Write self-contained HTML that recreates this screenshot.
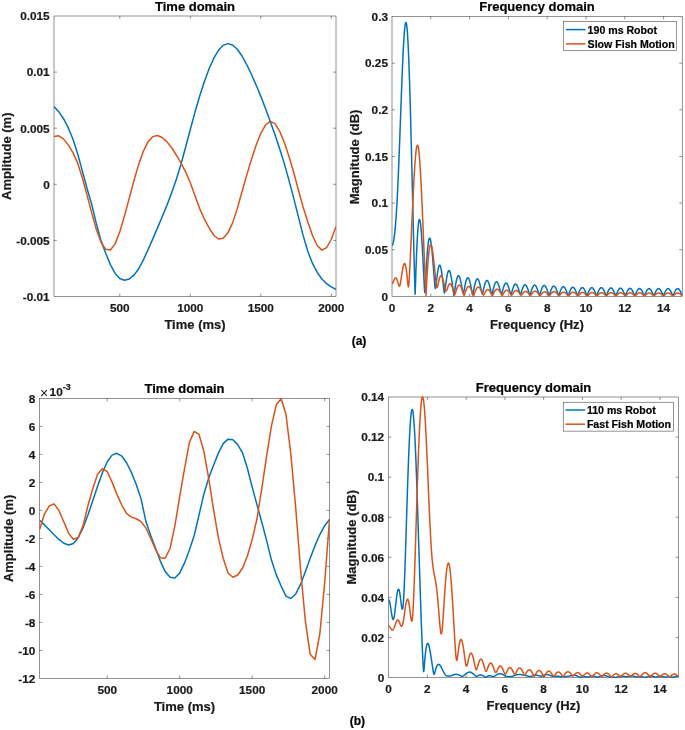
<!DOCTYPE html>
<html><head><meta charset="utf-8"><style>
html,body{margin:0;padding:0;background:#fff;}
svg{display:block;will-change:transform;font-family:"Liberation Sans",sans-serif;}
</style></head><body>
<svg width="685" height="730" viewBox="0 0 685 730">
<rect width="685" height="730" fill="#fff"/>
<clipPath id="cTL"><rect x="54.0" y="15.0" width="282.00" height="282.50"/></clipPath>
<clipPath id="cTR"><rect x="392.0" y="15.5" width="290.20" height="281.90"/></clipPath>
<clipPath id="cBL"><rect x="39.6" y="397.4" width="289.90" height="282.00"/></clipPath>
<clipPath id="cBR"><rect x="388.5" y="396.0" width="290.00" height="282.50"/></clipPath>
<rect x="54.0" y="16.0" width="282.00" height="280.50" fill="none" stroke="#262626" stroke-width="0.5"/>
<path d="M119.80,296.5V293.60M119.80,16.0V18.90M190.30,296.5V293.60M190.30,16.0V18.90M260.80,296.5V293.60M260.80,16.0V18.90M331.30,296.5V293.60M331.30,16.0V18.90M54.0,240.40H56.90M336.0,240.40H333.10M54.0,184.30H56.90M336.0,184.30H333.10M54.0,128.20H56.90M336.0,128.20H333.10M54.0,72.10H56.90M336.0,72.10H333.10" stroke="#262626" stroke-width="0.5" fill="none"/>
<polyline clip-path="url(#cTL)" points="54.00,106.54 58.70,111.69 63.40,118.45 68.10,127.43 72.80,138.81 77.50,153.20 82.20,170.42 86.90,187.95 91.60,203.95 96.30,223.41 101.00,240.71 105.70,253.25 110.40,264.59 115.10,273.44 119.80,278.57 124.50,280.28 129.20,279.03 133.90,275.11 138.60,268.94 143.30,260.17 148.00,249.70 152.70,239.10 157.40,228.14 162.10,217.06 166.80,205.61 171.50,193.29 176.20,179.82 180.90,164.49 185.60,147.26 190.30,129.47 195.00,112.17 199.70,95.99 204.40,81.44 209.10,68.73 213.80,58.21 218.50,50.35 223.20,45.34 227.90,43.61 232.60,45.06 237.30,49.21 242.00,56.00 246.70,64.54 251.40,74.27 256.10,84.97 260.80,96.34 265.50,108.55 270.20,121.31 274.90,134.51 279.60,148.46 284.30,163.62 289.00,180.35 293.70,198.16 298.40,216.91 303.10,235.38 307.80,251.25 312.50,263.45 317.20,272.42 321.90,278.94 326.60,283.66 331.30,286.90 336.00,289.43" fill="none" stroke="#0072BD" stroke-width="1.5" stroke-linejoin="round"/>
<polyline clip-path="url(#cTL)" points="54.00,136.41 58.70,135.86 63.40,138.88 68.10,144.63 72.80,152.34 77.50,162.68 82.20,177.33 86.90,194.59 91.60,212.57 96.30,229.21 101.00,242.10 105.70,249.33 110.40,249.93 115.10,243.87 119.80,231.81 124.50,215.84 129.20,198.32 133.90,180.76 138.60,164.66 143.30,151.37 148.00,141.81 152.70,136.63 157.40,135.48 162.10,137.46 166.80,141.60 171.50,147.53 176.20,154.84 180.90,162.97 185.60,171.84 190.30,182.75 195.00,195.72 199.70,208.59 204.40,219.20 209.10,227.83 213.80,235.26 218.50,239.00 223.20,238.21 227.90,232.82 232.60,222.89 237.30,208.49 242.00,191.69 246.70,175.09 251.40,159.48 256.10,145.35 260.80,133.41 265.50,125.01 270.20,121.41 274.90,123.70 279.60,131.07 284.30,142.41 289.00,156.55 293.70,172.27 298.40,189.95 303.10,206.94 307.80,222.00 312.50,235.54 317.20,245.51 321.90,250.11 326.60,247.63 331.30,239.25 336.00,226.71" fill="none" stroke="#D95319" stroke-width="1.5" stroke-linejoin="round"/>
<text x="119.80" y="311.90" font-size="11.8" text-anchor="middle" font-weight="bold" fill="#1a1a1a" stroke="#1a1a1a" stroke-width="0.2" >500</text>
<text x="190.30" y="311.90" font-size="11.8" text-anchor="middle" font-weight="bold" fill="#1a1a1a" stroke="#1a1a1a" stroke-width="0.2" >1000</text>
<text x="260.80" y="311.90" font-size="11.8" text-anchor="middle" font-weight="bold" fill="#1a1a1a" stroke="#1a1a1a" stroke-width="0.2" >1500</text>
<text x="331.30" y="311.90" font-size="11.8" text-anchor="middle" font-weight="bold" fill="#1a1a1a" stroke="#1a1a1a" stroke-width="0.2" >2000</text>
<text x="49.70" y="300.80" font-size="11.8" text-anchor="end" font-weight="bold" fill="#1a1a1a" stroke="#1a1a1a" stroke-width="0.2" >-0.01</text>
<text x="49.70" y="244.70" font-size="11.8" text-anchor="end" font-weight="bold" fill="#1a1a1a" stroke="#1a1a1a" stroke-width="0.2" >-0.005</text>
<text x="49.70" y="188.60" font-size="11.8" text-anchor="end" font-weight="bold" fill="#1a1a1a" stroke="#1a1a1a" stroke-width="0.2" >0</text>
<text x="49.70" y="132.50" font-size="11.8" text-anchor="end" font-weight="bold" fill="#1a1a1a" stroke="#1a1a1a" stroke-width="0.2" >0.005</text>
<text x="49.70" y="76.40" font-size="11.8" text-anchor="end" font-weight="bold" fill="#1a1a1a" stroke="#1a1a1a" stroke-width="0.2" >0.01</text>
<text x="49.70" y="20.30" font-size="11.8" text-anchor="end" font-weight="bold" fill="#1a1a1a" stroke="#1a1a1a" stroke-width="0.2" >0.015</text>
<text x="195.00" y="328.60" font-size="13.0" text-anchor="middle" font-weight="bold" fill="#1a1a1a" stroke="#1a1a1a" stroke-width="0.2" >Time (ms)</text>
<text x="195.00" y="11.00" font-size="13.0" text-anchor="middle" font-weight="bold" fill="#000" stroke="#000" stroke-width="0.2" >Time domain</text>
<text x="11.30" y="156.20" font-size="13.0" text-anchor="middle" font-weight="bold" fill="#1a1a1a" stroke="#1a1a1a" stroke-width="0.2" transform="rotate(-90 11.3 156.2)">Amplitude (m)</text>
<rect x="392.0" y="16.5" width="290.20" height="279.90" fill="none" stroke="#262626" stroke-width="0.5"/>
<path d="M430.80,296.4V293.50M430.80,16.5V19.40M469.60,296.4V293.50M469.60,16.5V19.40M508.40,296.4V293.50M508.40,16.5V19.40M547.20,296.4V293.50M547.20,16.5V19.40M586.00,296.4V293.50M586.00,16.5V19.40M624.80,296.4V293.50M624.80,16.5V19.40M663.60,296.4V293.50M663.60,16.5V19.40M392.0,249.75H394.90M682.2,249.75H679.30M392.0,203.10H394.90M682.2,203.10H679.30M392.0,156.45H394.90M682.2,156.45H679.30M392.0,109.80H394.90M682.2,109.80H679.30M392.0,63.15H394.90M682.2,63.15H679.30" stroke="#262626" stroke-width="0.5" fill="none"/>
<polyline clip-path="url(#cTR)" points="391.90,245.43 392.14,245.34 392.38,245.08 392.63,244.63 392.87,244.00 393.11,243.19 393.35,242.20 393.59,241.03 393.84,239.67 394.08,238.12 394.32,236.37 394.56,234.43 394.80,232.28 395.05,229.92 395.29,227.34 395.53,224.54 395.77,221.51 396.02,218.25 396.26,214.74 396.50,210.99 396.74,206.99 396.98,202.75 397.23,198.27 397.47,193.55 397.71,188.59 397.95,183.41 398.19,178.01 398.44,172.40 398.68,166.61 398.92,160.64 399.16,154.52 399.40,148.25 399.65,141.88 399.89,135.40 400.13,128.86 400.37,122.28 400.61,115.68 400.86,109.09 401.10,102.54 401.34,96.05 401.58,89.66 401.83,83.39 402.07,77.28 402.31,71.35 402.55,65.64 402.79,60.16 403.04,54.96 403.28,50.05 403.52,45.47 403.76,41.24 404.00,37.38 404.25,33.92 404.49,30.88 404.73,28.28 404.97,26.13 405.21,24.47 405.46,23.29 405.70,22.61 405.94,22.45 406.18,22.82 406.42,23.71 406.67,25.14 406.91,27.10 407.15,29.60 407.39,32.63 407.64,36.20 407.88,40.28 408.12,44.88 408.36,49.99 408.60,55.58 408.85,61.64 409.09,68.16 409.33,75.11 409.57,82.48 409.81,90.23 410.06,98.35 410.30,106.81 410.54,115.57 410.78,124.61 411.02,133.91 411.27,143.41 411.51,153.10 411.75,162.94 411.99,172.90 412.23,182.93 412.48,193.01 412.72,203.10 412.96,213.17 413.20,223.17 413.45,233.08 413.69,242.86 413.93,252.47 414.17,261.89 414.41,271.07 414.66,279.97 414.90,288.49 415.14,294.25 415.38,287.45 415.62,279.91 415.87,272.69 416.11,265.86 416.35,259.44 416.59,253.46 416.83,247.94 417.08,242.89 417.32,238.32 417.56,234.24 417.80,230.65 418.04,227.56 418.29,224.98 418.53,222.89 418.77,221.30 419.01,220.20 419.26,219.59 419.50,219.45 419.74,219.78 419.98,220.56 420.22,221.77 420.47,223.40 420.71,225.43 420.95,227.84 421.19,230.61 421.43,233.71 421.68,237.12 421.92,240.82 422.16,244.77 422.40,248.96 422.64,253.34 422.89,257.90 423.13,262.60 423.37,267.41 423.61,272.29 423.85,277.22 424.10,282.12 424.34,286.89 424.58,291.16 424.82,292.58 425.07,289.34 425.31,284.98 425.55,280.50 425.79,276.10 426.03,271.83 426.28,267.73 426.52,263.84 426.76,260.17 427.00,256.74 427.24,253.57 427.49,250.67 427.73,248.06 427.97,245.73 428.21,243.71 428.45,242.00 428.70,240.59 428.94,239.50 429.18,238.72 429.42,238.25 429.66,238.09 429.91,238.24 430.15,238.69 430.39,239.42 430.63,240.43 430.88,241.71 431.12,243.25 431.36,245.03 431.60,247.04 431.84,249.26 432.09,251.66 432.33,254.25 432.57,256.98 432.81,259.85 433.05,262.83 433.30,265.89 433.54,269.01 433.78,272.16 434.02,275.31 434.26,278.39 434.51,281.36 434.75,284.10 434.99,286.44 435.23,288.06 435.47,288.57 435.72,287.87 435.96,286.30 436.20,284.28 436.44,282.08 436.69,279.86 436.93,277.70 437.17,275.65 437.41,273.74 437.65,271.99 437.90,270.42 438.14,269.04 438.38,267.86 438.62,266.89 438.86,266.13 439.11,265.59 439.35,265.26 439.59,265.14 439.83,265.24 440.07,265.54 440.32,266.05 440.56,266.75 440.80,267.63 441.04,268.70 441.28,269.94 441.53,271.33 441.77,272.87 442.01,274.55 442.25,276.34 442.50,278.24 442.74,280.22 442.98,282.27 443.22,284.37 443.46,286.49 443.71,288.58 443.95,290.57 444.19,292.23 444.43,293.06 444.67,292.49 444.92,290.98 445.16,289.15 445.40,287.22 445.64,285.31 445.88,283.44 446.13,281.66 446.37,279.97 446.61,278.40 446.85,276.94 447.09,275.62 447.34,274.45 447.58,273.42 447.82,272.54 448.06,271.83 448.31,271.27 448.55,270.88 448.79,270.66 449.03,270.60 449.27,270.70 449.52,270.97 449.76,271.39 450.00,271.97 450.24,272.69 450.48,273.56 450.73,274.56 450.97,275.69 451.21,276.94 451.45,278.30 451.69,279.76 451.94,281.31 452.18,282.94 452.42,284.64 452.66,286.39 452.90,288.18 453.15,290.01 453.39,291.84 453.63,293.65 453.87,295.29 454.12,295.06 454.36,293.40 454.60,291.66 454.84,289.95 455.08,288.29 455.33,286.70 455.57,285.18 455.81,283.75 456.05,282.42 456.29,281.20 456.54,280.08 456.78,279.08 457.02,278.21 457.26,277.46 457.50,276.84 457.75,276.36 457.99,276.02 458.23,275.81 458.47,275.74 458.71,275.80 458.96,276.00 459.20,276.33 459.44,276.79 459.68,277.38 459.93,278.08 460.17,278.90 460.41,279.82 460.65,280.84 460.89,281.95 461.14,283.15 461.38,284.41 461.62,285.73 461.86,287.10 462.10,288.49 462.35,289.89 462.59,291.24 462.83,292.46 463.07,293.35 463.31,293.57 463.56,292.99 463.80,291.94 464.04,290.69 464.28,289.37 464.52,288.06 464.77,286.77 465.01,285.53 465.25,284.35 465.49,283.25 465.74,282.24 465.98,281.31 466.22,280.48 466.46,279.76 466.70,279.14 466.95,278.64 467.19,278.25 467.43,277.98 467.67,277.83 467.91,277.80 468.16,277.89 468.40,278.09 468.64,278.42 468.88,278.85 469.12,279.40 469.37,280.05 469.61,280.80 469.85,281.65 470.09,282.59 470.33,283.61 470.58,284.71 470.82,285.87 471.06,287.09 471.30,288.36 471.55,289.67 471.79,291.00 472.03,292.31 472.27,293.56 472.51,294.55 472.76,294.69 473.00,293.85 473.24,292.65 473.48,291.37 473.72,290.08 473.97,288.82 474.21,287.59 474.45,286.41 474.69,285.30 474.93,284.25 475.18,283.29 475.42,282.40 475.66,281.61 475.90,280.91 476.14,280.31 476.39,279.81 476.63,279.41 476.87,279.12 477.11,278.94 477.36,278.87 477.60,278.90 477.84,279.05 478.08,279.30 478.32,279.65 478.57,280.10 478.81,280.65 479.05,281.30 479.29,282.03 479.53,282.85 479.78,283.74 480.02,284.70 480.26,285.73 480.50,286.80 480.74,287.92 480.99,289.06 481.23,290.21 481.47,291.35 481.71,292.41 481.95,293.30 482.20,293.80 482.44,293.69 482.68,293.04 482.92,292.10 483.17,291.04 483.41,289.95 483.65,288.86 483.89,287.79 484.13,286.77 484.38,285.80 484.62,284.90 484.86,284.06 485.10,283.30 485.34,282.62 485.59,282.03 485.83,281.53 486.07,281.12 486.31,280.81 486.55,280.59 486.80,280.47 487.04,280.45 487.28,280.53 487.52,280.71 487.76,280.98 488.01,281.35 488.25,281.81 488.49,282.35 488.73,282.98 488.98,283.68 489.22,284.46 489.46,285.31 489.70,286.21 489.94,287.17 490.19,288.17 490.43,289.21 490.67,290.26 490.91,291.31 491.15,292.33 491.40,293.24 491.64,293.92 491.88,294.11 492.12,293.71 492.36,292.94 492.61,292.01 492.85,291.01 493.09,290.00 493.33,289.01 493.57,288.05 493.82,287.14 494.06,286.28 494.30,285.48 494.54,284.74 494.79,284.08 495.03,283.50 495.27,283.00 495.51,282.58 495.75,282.24 496.00,282.00 496.24,281.84 496.48,281.78 496.72,281.80 496.96,281.92 497.21,282.12 497.45,282.41 497.69,282.79 497.93,283.24 498.17,283.78 498.42,284.38 498.66,285.06 498.90,285.80 499.14,286.60 499.38,287.45 499.63,288.34 499.87,289.27 500.11,290.22 500.35,291.18 500.60,292.11 500.84,292.99 501.08,293.72 501.32,294.13 501.56,294.04 501.81,293.52 502.05,292.75 502.29,291.88 502.53,290.98 502.77,290.07 503.02,289.18 503.26,288.33 503.50,287.53 503.74,286.77 503.98,286.07 504.23,285.44 504.47,284.88 504.71,284.38 504.95,283.97 505.19,283.63 505.44,283.37 505.68,283.19 505.92,283.10 506.16,283.09 506.41,283.16 506.65,283.32 506.89,283.55 507.13,283.86 507.37,284.25 507.62,284.72 507.86,285.25 508.10,285.85 508.34,286.51 508.58,287.22 508.83,287.99 509.07,288.80 509.31,289.64 509.55,290.51 509.79,291.39 510.04,292.26 510.28,293.10 510.52,293.82 510.76,294.30 511.00,294.35 511.25,293.95 511.49,293.27 511.73,292.47 511.97,291.63 512.22,290.79 512.46,289.96 512.70,289.16 512.94,288.39 513.18,287.68 513.43,287.01 513.67,286.41 513.91,285.86 514.15,285.38 514.39,284.97 514.64,284.63 514.88,284.37 515.12,284.18 515.36,284.07 515.60,284.04 515.85,284.08 516.09,284.20 516.33,284.39 516.57,284.66 516.81,285.00 517.06,285.41 517.30,285.88 517.54,286.42 517.78,287.01 518.03,287.66 518.27,288.36 518.51,289.09 518.75,289.86 518.99,290.66 519.24,291.47 519.48,292.27 519.72,293.04 519.96,293.72 520.20,294.21 520.45,294.36 520.69,294.09 520.93,293.53 521.17,292.83 521.41,292.07 521.66,291.29 521.90,290.51 522.14,289.77 522.38,289.05 522.62,288.37 522.87,287.74 523.11,287.17 523.35,286.64 523.59,286.19 523.84,285.79 524.08,285.46 524.32,285.20 524.56,285.01 524.80,284.90 525.05,284.85 525.29,284.88 525.53,284.98 525.77,285.16 526.01,285.40 526.26,285.71 526.50,286.09 526.74,286.53 526.98,287.03 527.22,287.59 527.47,288.21 527.71,288.87 527.95,289.57 528.19,290.31 528.43,291.08 528.68,291.86 528.92,292.66 529.16,293.44 529.40,294.15 529.65,294.70 529.89,294.86 530.13,294.54 530.37,293.92 530.61,293.18 530.86,292.40 531.10,291.62 531.34,290.85 531.58,290.10 531.82,289.39 532.07,288.71 532.31,288.09 532.55,287.51 532.79,286.98 533.03,286.52 533.28,286.11 533.52,285.77 533.76,285.50 534.00,285.29 534.25,285.15 534.49,285.08 534.73,285.09 534.97,285.16 535.21,285.30 535.46,285.51 535.70,285.79 535.94,286.13 536.18,286.54 536.42,287.00 536.67,287.52 536.91,288.10 537.15,288.73 537.39,289.40 537.63,290.11 537.88,290.85 538.12,291.62 538.36,292.42 538.60,293.22 538.84,294.01 539.09,294.75 539.33,295.29 539.57,295.27 539.81,294.71 540.06,293.98 540.30,293.19 540.54,292.40 540.78,291.63 541.02,290.88 541.27,290.16 541.51,289.48 541.75,288.84 541.99,288.24 542.23,287.70 542.48,287.22 542.72,286.79 542.96,286.42 543.20,286.11 543.44,285.87 543.69,285.69 543.93,285.58 544.17,285.54 544.41,285.57 544.65,285.66 544.90,285.82 545.14,286.04 545.38,286.33 545.62,286.68 545.87,287.08 546.11,287.55 546.35,288.07 546.59,288.63 546.83,289.24 547.08,289.90 547.32,290.58 547.56,291.30 547.80,292.05 548.04,292.80 548.29,293.56 548.53,294.30 548.77,294.94 549.01,295.30 549.25,295.11 549.50,294.53 549.74,293.83 549.98,293.09 550.22,292.35 550.46,291.62 550.71,290.92 550.95,290.25 551.19,289.62 551.43,289.03 551.67,288.48 551.92,287.99 552.16,287.55 552.40,287.16 552.64,286.83 552.89,286.56 553.13,286.36 553.37,286.21 553.61,286.13 553.85,286.12 554.10,286.16 554.34,286.27 554.58,286.45 554.82,286.68 555.06,286.98 555.31,287.33 555.55,287.73 555.79,288.19 556.03,288.69 556.27,289.24 556.52,289.83 556.76,290.46 557.00,291.12 557.24,291.80 557.49,292.49 557.73,293.19 557.97,293.87 558.21,294.50 558.45,294.97 558.70,295.10 558.94,294.79 559.18,294.24 559.42,293.59 559.66,292.92 559.91,292.24 560.15,291.58 560.39,290.94 560.63,290.34 560.87,289.76 561.12,289.23 561.36,288.75 561.60,288.31 561.84,287.92 562.08,287.58 562.33,287.31 562.57,287.09 562.81,286.92 563.05,286.82 563.29,286.78 563.54,286.79 563.78,286.87 564.02,287.01 564.26,287.20 564.51,287.45 564.75,287.76 564.99,288.12 565.23,288.52 565.47,288.98 565.72,289.47 565.96,290.01 566.20,290.58 566.44,291.18 566.68,291.80 566.93,292.43 567.17,293.06 567.41,293.68 567.65,294.24 567.89,294.67 568.14,294.86 568.38,294.70 568.62,294.29 568.86,293.75 569.11,293.15 569.35,292.54 569.59,291.92 569.83,291.33 570.07,290.75 570.32,290.21 570.56,289.70 570.80,289.24 571.04,288.82 571.28,288.44 571.53,288.11 571.77,287.84 572.01,287.62 572.25,287.45 572.49,287.34 572.74,287.29 572.98,287.30 573.22,287.36 573.46,287.48 573.70,287.65 573.95,287.88 574.19,288.16 574.43,288.49 574.67,288.87 574.91,289.29 575.16,289.75 575.40,290.25 575.64,290.79 575.88,291.35 576.13,291.93 576.37,292.52 576.61,293.12 576.85,293.69 577.09,294.21 577.34,294.62 577.58,294.80 577.82,294.68 578.06,294.32 578.30,293.82 578.55,293.26 578.79,292.68 579.03,292.10 579.27,291.53 579.51,290.98 579.76,290.46 580.00,289.97 580.24,289.52 580.48,289.11 580.72,288.75 580.97,288.43 581.21,288.16 581.45,287.94 581.69,287.78 581.94,287.67 582.18,287.61 582.42,287.61 582.66,287.67 582.90,287.78 583.15,287.94 583.39,288.16 583.63,288.43 583.87,288.74 584.11,289.11 584.36,289.52 584.60,289.96 584.84,290.45 585.08,290.97 585.32,291.52 585.57,292.09 585.81,292.67 586.05,293.26 586.29,293.83 586.53,294.36 586.78,294.78 587.02,294.97 587.26,294.85 587.50,294.47 587.75,293.96 587.99,293.39 588.23,292.81 588.47,292.23 588.71,291.65 588.96,291.11 589.20,290.58 589.44,290.10 589.68,289.64 589.92,289.23 590.17,288.86 590.41,288.54 590.65,288.26 590.89,288.04 591.13,287.87 591.38,287.75 591.62,287.68 591.86,287.67 592.10,287.72 592.35,287.82 592.59,287.97 592.83,288.17 593.07,288.43 593.31,288.73 593.56,289.08 593.80,289.48 594.04,289.92 594.28,290.40 594.52,290.91 594.77,291.46 595.01,292.03 595.25,292.62 595.49,293.22 595.73,293.83 595.98,294.42 596.22,294.93 596.46,295.27 596.70,295.23 596.94,294.85 597.19,294.32 597.43,293.73 597.67,293.12 597.91,292.52 598.15,291.93 598.40,291.36 598.64,290.82 598.88,290.31 599.12,289.84 599.37,289.41 599.61,289.02 599.85,288.67 600.09,288.38 600.33,288.13 600.58,287.93 600.82,287.78 601.06,287.69 601.30,287.65 601.54,287.67 601.79,287.74 602.03,287.86 602.27,288.04 602.51,288.26 602.75,288.54 603.00,288.86 603.24,289.23 603.48,289.65 603.72,290.10 603.97,290.59 604.21,291.11 604.45,291.66 604.69,292.24 604.93,292.83 605.18,293.44 605.42,294.04 605.66,294.62 605.90,295.11 606.14,295.38 606.39,295.23 606.63,294.79 606.87,294.24 607.11,293.65 607.35,293.05 607.60,292.46 607.84,291.89 608.08,291.35 608.32,290.83 608.56,290.34 608.81,289.90 609.05,289.49 609.29,289.13 609.53,288.81 609.77,288.54 610.02,288.31 610.26,288.14 610.50,288.02 610.74,287.96 610.99,287.94 611.23,287.98 611.47,288.07 611.71,288.21 611.95,288.41 612.20,288.65 612.44,288.94 612.68,289.28 612.92,289.66 613.16,290.08 613.41,290.53 613.65,291.03 613.89,291.55 614.13,292.10 614.37,292.66 614.62,293.24 614.86,293.83 615.10,294.40 615.34,294.92 615.59,295.28 615.83,295.32 616.07,295.00 616.31,294.51 616.55,293.95 616.80,293.37 617.04,292.80 617.28,292.24 617.52,291.69 617.76,291.18 618.01,290.69 618.25,290.24 618.49,289.83 618.73,289.45 618.97,289.12 619.22,288.84 619.46,288.60 619.70,288.41 619.94,288.27 620.18,288.18 620.43,288.15 620.67,288.16 620.91,288.23 621.15,288.34 621.39,288.51 621.64,288.72 621.88,288.99 622.12,289.30 622.36,289.65 622.61,290.04 622.85,290.47 623.09,290.93 623.33,291.43 623.57,291.95 623.82,292.49 624.06,293.04 624.30,293.61 624.54,294.16 624.78,294.67 625.03,295.08 625.27,295.25 625.51,295.09 625.75,294.69 625.99,294.18 626.24,293.63 626.48,293.08 626.72,292.53 626.96,292.00 627.20,291.49 627.45,291.00 627.69,290.55 627.93,290.13 628.17,289.75 628.42,289.41 628.66,289.12 628.90,288.87 629.14,288.67 629.38,288.51 629.63,288.41 629.87,288.35 630.11,288.35 630.35,288.39 630.59,288.49 630.84,288.63 631.08,288.82 631.32,289.06 631.56,289.34 631.80,289.67 632.05,290.04 632.29,290.44 632.53,290.88 632.77,291.35 633.01,291.85 633.26,292.37 633.50,292.90 633.74,293.44 633.98,293.98 634.23,294.49 634.47,294.91 634.71,295.16 634.95,295.12 635.19,294.81 635.44,294.36 635.68,293.84 635.92,293.31 636.16,292.78 636.40,292.25 636.65,291.75 636.89,291.27 637.13,290.82 637.37,290.40 637.61,290.02 637.86,289.68 638.10,289.38 638.34,289.12 638.58,288.91 638.83,288.74 639.07,288.62 639.31,288.56 639.55,288.54 639.79,288.57 640.04,288.65 640.28,288.77 640.52,288.95 640.76,289.17 641.00,289.44 641.25,289.75 641.49,290.09 641.73,290.48 641.97,290.90 642.21,291.36 642.46,291.84 642.70,292.34 642.94,292.87 643.18,293.40 643.42,293.92 643.67,294.43 643.91,294.87 644.15,295.15 644.39,295.17 644.63,294.90 644.88,294.47 645.12,293.97 645.36,293.44 645.60,292.91 645.85,292.39 646.09,291.89 646.33,291.41 646.57,290.96 646.81,290.53 647.06,290.15 647.30,289.80 647.54,289.49 647.78,289.23 648.02,289.00 648.27,288.83 648.51,288.70 648.75,288.62 648.99,288.59 649.23,288.61 649.48,288.67 649.72,288.79 649.96,288.95 650.20,289.16 650.44,289.41 650.69,289.71 650.93,290.04 651.17,290.42 651.41,290.83 651.66,291.27 651.90,291.75 652.14,292.25 652.38,292.76 652.62,293.29 652.87,293.82 653.11,294.34 653.35,294.81 653.59,295.16 653.83,295.26 654.08,295.05 654.32,294.64 654.56,294.14 654.80,293.62 655.04,293.08 655.29,292.56 655.53,292.05 655.77,291.56 656.01,291.10 656.25,290.66 656.50,290.27 656.74,289.91 656.98,289.58 657.22,289.30 657.47,289.07 657.71,288.88 657.95,288.73 658.19,288.64 658.43,288.59 658.68,288.59 658.92,288.64 659.16,288.74 659.40,288.88 659.64,289.07 659.89,289.31 660.13,289.59 660.37,289.91 660.61,290.28 660.85,290.68 661.10,291.11 661.34,291.57 661.58,292.06 661.82,292.57 662.07,293.10 662.31,293.64 662.55,294.17 662.79,294.67 663.03,295.09 663.28,295.31 663.52,295.21 663.76,294.85 664.00,294.37 664.24,293.85 664.49,293.32 664.73,292.78 664.97,292.27 665.21,291.77 665.45,291.29 665.70,290.85 665.94,290.44 666.18,290.06 666.42,289.72 666.66,289.43 666.91,289.17 667.15,288.97 667.39,288.80 667.63,288.69 667.88,288.62 668.12,288.60 668.36,288.63 668.60,288.71 668.84,288.84 669.09,289.01 669.33,289.23 669.57,289.49 669.81,289.80 670.05,290.15 670.30,290.53 670.54,290.95 670.78,291.40 671.02,291.88 671.26,292.39 671.51,292.91 671.75,293.44 671.99,293.98 672.23,294.50 672.47,294.96 672.72,295.28 672.96,295.30 673.20,295.02 673.44,294.57 673.68,294.06 673.93,293.53 674.17,292.99 674.41,292.47 674.65,291.96 674.90,291.48 675.14,291.02 675.38,290.59 675.62,290.20 675.86,289.85 676.11,289.54 676.35,289.27 676.59,289.04 676.83,288.86 677.07,288.72 677.32,288.64 677.56,288.60 677.80,288.61 678.04,288.67 678.28,288.77 678.53,288.93 678.77,289.13 679.01,289.38 679.25,289.66 679.50,289.99 679.74,290.36 679.98,290.77 680.22,291.21 680.46,291.68 680.71,292.17 680.95,292.69 681.19,293.22 681.43,293.76 681.67,294.29 681.92,294.79 682.16,295.18 682.40,295.35" fill="none" stroke="#0072BD" stroke-width="1.5" stroke-linejoin="round"/>
<polyline clip-path="url(#cTR)" points="391.90,283.74 392.14,283.67 392.38,283.47 392.63,283.15 392.87,282.72 393.11,282.22 393.35,281.67 393.59,281.09 393.84,280.52 394.08,279.96 394.32,279.44 394.56,278.98 394.80,278.59 395.05,278.28 395.29,278.06 395.53,277.95 395.77,277.94 396.02,278.04 396.26,278.26 396.50,278.59 396.74,279.03 396.98,279.58 397.23,280.22 397.47,280.96 397.71,281.76 397.95,282.60 398.19,283.47 398.44,284.31 398.68,285.08 398.92,285.71 399.16,286.12 399.40,286.25 399.65,286.04 399.89,285.49 400.13,284.63 400.37,283.51 400.61,282.18 400.86,280.72 401.10,279.16 401.34,277.55 401.58,275.92 401.83,274.31 402.07,272.74 402.31,271.23 402.55,269.81 402.79,268.49 403.04,267.30 403.28,266.24 403.52,265.34 403.76,264.60 404.00,264.05 404.25,263.69 404.49,263.54 404.73,263.60 404.97,263.89 405.21,264.41 405.46,265.16 405.70,266.15 405.94,267.38 406.18,268.85 406.42,270.55 406.67,272.48 406.91,274.62 407.15,276.93 407.39,279.37 407.64,281.86 407.88,284.20 408.12,286.08 408.36,286.90 408.60,286.17 408.85,283.94 409.09,280.69 409.33,276.80 409.57,272.49 409.81,267.88 410.06,263.04 410.30,258.02 410.54,252.87 410.78,247.60 411.02,242.25 411.27,236.85 411.51,231.41 411.75,225.96 411.99,220.53 412.23,215.14 412.48,209.80 412.72,204.54 412.96,199.39 413.20,194.36 413.45,189.48 413.69,184.76 413.93,180.23 414.17,175.90 414.41,171.80 414.66,167.94 414.90,164.33 415.14,161.00 415.38,157.96 415.62,155.21 415.87,152.78 416.11,150.67 416.35,148.90 416.59,147.46 416.83,146.38 417.08,145.65 417.32,145.28 417.56,145.26 417.80,145.61 418.04,146.32 418.29,147.39 418.53,148.81 418.77,150.59 419.01,152.70 419.26,155.16 419.50,157.94 419.74,161.04 419.98,164.44 420.22,168.14 420.47,172.11 420.71,176.35 420.95,180.83 421.19,185.55 421.43,190.48 421.68,195.60 421.92,200.89 422.16,206.34 422.40,211.92 422.64,217.62 422.89,223.40 423.13,229.26 423.37,235.16 423.61,241.10 423.85,247.04 424.10,252.96 424.34,258.84 424.58,264.67 424.82,270.43 425.07,276.08 425.31,281.62 425.55,287.02 425.79,292.26 426.03,295.31 426.28,290.50 426.52,285.81 426.76,281.32 427.00,277.05 427.24,273.02 427.49,269.23 427.73,265.70 427.97,262.43 428.21,259.43 428.45,256.70 428.70,254.25 428.94,252.08 429.18,250.20 429.42,248.59 429.66,247.27 429.91,246.22 430.15,245.45 430.39,244.94 430.63,244.70 430.88,244.71 431.12,244.97 431.36,245.47 431.60,246.20 431.84,247.14 432.09,248.29 432.33,249.63 432.57,251.14 432.81,252.82 433.05,254.65 433.30,256.61 433.54,258.69 433.78,260.87 434.02,263.13 434.26,265.45 434.51,267.82 434.75,270.21 434.99,272.61 435.23,274.98 435.47,277.30 435.72,279.53 435.96,281.62 436.20,283.53 436.44,285.16 436.69,286.41 436.93,287.17 437.17,287.39 437.41,287.08 437.65,286.37 437.90,285.38 438.14,284.26 438.38,283.08 438.62,281.91 438.86,280.79 439.11,279.75 439.35,278.81 439.59,277.98 439.83,277.28 440.07,276.70 440.32,276.25 440.56,275.94 440.80,275.76 441.04,275.72 441.28,275.80 441.53,276.01 441.77,276.34 442.01,276.78 442.25,277.34 442.50,277.99 442.74,278.74 442.98,279.58 443.22,280.48 443.46,281.46 443.71,282.48 443.95,283.54 444.19,284.63 444.43,285.72 444.67,286.80 444.92,287.84 445.16,288.81 445.40,289.65 445.64,290.33 445.88,290.77 446.13,290.94 446.37,290.83 446.61,290.47 446.85,289.93 447.09,289.29 447.34,288.59 447.58,287.88 447.82,287.18 448.06,286.52 448.31,285.91 448.55,285.37 448.79,284.89 449.03,284.49 449.27,284.17 449.52,283.93 449.76,283.78 450.00,283.72 450.24,283.75 450.48,283.86 450.73,284.06 450.97,284.34 451.21,284.70 451.45,285.14 451.69,285.65 451.94,286.24 452.18,286.88 452.42,287.58 452.66,288.34 452.90,289.13 453.15,289.97 453.39,290.83 453.63,291.71 453.87,292.58 454.12,293.42 454.36,294.16 454.60,294.65 454.84,294.66 455.08,294.19 455.33,293.48 455.57,292.68 455.81,291.86 456.05,291.05 456.29,290.26 456.54,289.50 456.78,288.79 457.02,288.13 457.26,287.53 457.50,286.98 457.75,286.50 457.99,286.08 458.23,285.74 458.47,285.46 458.71,285.26 458.96,285.13 459.20,285.08 459.44,285.09 459.68,285.19 459.93,285.35 460.17,285.58 460.41,285.89 460.65,286.25 460.89,286.69 461.14,287.18 461.38,287.72 461.62,288.32 461.86,288.97 462.10,289.65 462.35,290.38 462.59,291.13 462.83,291.91 463.07,292.71 463.31,293.51 463.56,294.30 463.80,295.01 464.04,295.46 464.28,295.26 464.52,294.63 464.77,293.89 465.01,293.12 465.25,292.37 465.49,291.64 465.74,290.94 465.98,290.27 466.22,289.65 466.46,289.07 466.70,288.54 466.95,288.06 467.19,287.64 467.43,287.28 467.67,286.98 467.91,286.74 468.16,286.57 468.40,286.46 468.64,286.41 468.88,286.43 469.12,286.51 469.37,286.65 469.61,286.86 469.85,287.13 470.09,287.45 470.33,287.83 470.58,288.26 470.82,288.75 471.06,289.28 471.30,289.85 471.55,290.46 471.79,291.11 472.03,291.78 472.27,292.49 472.51,293.21 472.76,293.95 473.00,294.70 473.24,295.46 473.48,296.19 473.72,295.79 473.97,295.04 474.21,294.30 474.45,293.57 474.69,292.87 474.93,292.19 475.18,291.53 475.42,290.91 475.66,290.33 475.90,289.78 476.14,289.28 476.39,288.83 476.63,288.42 476.87,288.06 477.11,287.76 477.36,287.50 477.60,287.31 477.84,287.16 478.08,287.08 478.32,287.05 478.57,287.07 478.81,287.16 479.05,287.29 479.29,287.48 479.53,287.71 479.78,288.00 480.02,288.33 480.26,288.71 480.50,289.13 480.74,289.58 480.99,290.07 481.23,290.59 481.47,291.13 481.71,291.69 481.95,292.27 482.20,292.85 482.44,293.43 482.68,293.99 482.92,294.50 483.17,294.90 483.41,295.09 483.65,294.99 483.89,294.66 484.13,294.22 484.38,293.73 484.62,293.23 484.86,292.74 485.10,292.26 485.34,291.82 485.59,291.40 485.83,291.02 486.07,290.68 486.31,290.38 486.55,290.12 486.80,289.91 487.04,289.74 487.28,289.63 487.52,289.55 487.76,289.53 488.01,289.55 488.25,289.63 488.49,289.74 488.73,289.91 488.98,290.12 489.22,290.37 489.46,290.66 489.70,290.99 489.94,291.35 490.19,291.75 490.43,292.18 490.67,292.63 490.91,293.10 491.15,293.59 491.40,294.08 491.64,294.56 491.88,295.01 492.12,295.36 492.36,295.46 492.61,295.25 492.85,294.85 493.09,294.38 493.33,293.89 493.57,293.39 493.82,292.90 494.06,292.42 494.30,291.97 494.54,291.53 494.79,291.13 495.03,290.76 495.27,290.42 495.51,290.11 495.75,289.85 496.00,289.62 496.24,289.44 496.48,289.29 496.72,289.19 496.96,289.14 497.21,289.12 497.45,289.15 497.69,289.23 497.93,289.34 498.17,289.50 498.42,289.70 498.66,289.94 498.90,290.21 499.14,290.52 499.38,290.87 499.63,291.24 499.87,291.64 500.11,292.07 500.35,292.52 500.60,292.99 500.84,293.47 501.08,293.96 501.32,294.44 501.56,294.92 501.81,295.35 502.05,295.63 502.29,295.60 502.53,295.29 502.77,294.87 503.02,294.42 503.26,293.96 503.50,293.51 503.74,293.07 503.98,292.66 504.23,292.27 504.47,291.91 504.71,291.58 504.95,291.28 505.19,291.01 505.44,290.78 505.68,290.59 505.92,290.43 506.16,290.32 506.41,290.24 506.65,290.20 506.89,290.21 507.13,290.25 507.37,290.33 507.62,290.45 507.86,290.60 508.10,290.79 508.34,291.02 508.58,291.28 508.83,291.57 509.07,291.88 509.31,292.22 509.55,292.58 509.79,292.96 510.04,293.36 510.28,293.76 510.52,294.15 510.76,294.54 511.00,294.88 511.25,295.15 511.49,295.27 511.73,295.20 511.97,294.96 512.22,294.64 512.46,294.27 512.70,293.89 512.94,293.50 513.18,293.13 513.43,292.76 513.67,292.42 513.91,292.09 514.15,291.79 514.39,291.52 514.64,291.28 514.88,291.07 515.12,290.89 515.36,290.74 515.60,290.63 515.85,290.56 516.09,290.52 516.33,290.51 516.57,290.54 516.81,290.61 517.06,290.71 517.30,290.85 517.54,291.01 517.78,291.21 518.03,291.44 518.27,291.69 518.51,291.97 518.75,292.27 518.99,292.59 519.24,292.93 519.48,293.28 519.72,293.64 519.96,294.00 520.20,294.34 520.45,294.67 520.69,294.95 520.93,295.14 521.17,295.20 521.41,295.11 521.66,294.91 521.90,294.63 522.14,294.32 522.38,294.00 522.62,293.68 522.87,293.36 523.11,293.06 523.35,292.78 523.59,292.51 523.84,292.27 524.08,292.06 524.32,291.88 524.56,291.72 524.80,291.59 525.05,291.50 525.29,291.44 525.53,291.41 525.77,291.41 526.01,291.45 526.26,291.52 526.50,291.62 526.74,291.76 526.98,291.92 527.22,292.11 527.47,292.33 527.71,292.57 527.95,292.84 528.19,293.13 528.43,293.44 528.68,293.77 528.92,294.10 529.16,294.45 529.40,294.79 529.65,295.12 529.89,295.41 530.13,295.60 530.37,295.61 530.61,295.43 530.86,295.14 531.10,294.81 531.34,294.47 531.58,294.12 531.82,293.77 532.07,293.44 532.31,293.12 532.55,292.82 532.79,292.53 533.03,292.28 533.28,292.04 533.52,291.83 533.76,291.65 534.00,291.50 534.25,291.37 534.49,291.28 534.73,291.22 534.97,291.18 535.21,291.18 535.46,291.22 535.70,291.28 535.94,291.37 536.18,291.49 536.42,291.64 536.67,291.82 536.91,292.03 537.15,292.26 537.39,292.51 537.63,292.78 537.88,293.07 538.12,293.38 538.36,293.70 538.60,294.03 538.84,294.36 539.09,294.69 539.33,295.01 539.57,295.29 539.81,295.48 540.06,295.54 540.30,295.44 540.54,295.22 540.78,294.93 541.02,294.63 541.27,294.32 541.51,294.01 541.75,293.71 541.99,293.43 542.23,293.16 542.48,292.91 542.72,292.69 542.96,292.49 543.20,292.31 543.44,292.16 543.69,292.04 543.93,291.95 544.17,291.88 544.41,291.85 544.65,291.85 544.90,291.87 545.14,291.93 545.38,292.01 545.62,292.12 545.87,292.26 546.11,292.43 546.35,292.62 546.59,292.84 546.83,293.08 547.08,293.34 547.32,293.62 547.56,293.92 547.80,294.22 548.04,294.54 548.29,294.87 548.53,295.19 548.77,295.49 549.01,295.72 549.25,295.81 549.50,295.69 549.74,295.43 549.98,295.12 550.22,294.80 550.46,294.47 550.71,294.15 550.95,293.83 551.19,293.53 551.43,293.25 551.67,292.98 551.92,292.73 552.16,292.51 552.40,292.30 552.64,292.13 552.89,291.97 553.13,291.85 553.37,291.75 553.61,291.68 553.85,291.64 554.10,291.63 554.34,291.64 554.58,291.69 554.82,291.76 555.06,291.86 555.31,291.99 555.55,292.14 555.79,292.32 556.03,292.52 556.27,292.75 556.52,292.99 556.76,293.26 557.00,293.54 557.24,293.84 557.49,294.15 557.73,294.47 557.97,294.80 558.21,295.12 558.45,295.44 558.70,295.72 558.94,295.90 559.18,295.86 559.42,295.64 559.66,295.35 559.91,295.04 560.15,294.73 560.39,294.42 560.63,294.13 560.87,293.84 561.12,293.58 561.36,293.33 561.60,293.10 561.84,292.90 562.08,292.72 562.33,292.56 562.57,292.42 562.81,292.32 563.05,292.23 563.29,292.18 563.54,292.15 563.78,292.16 564.02,292.18 564.26,292.24 564.51,292.32 564.75,292.43 564.99,292.56 565.23,292.72 565.47,292.90 565.72,293.10 565.96,293.33 566.20,293.57 566.44,293.82 566.68,294.10 566.93,294.38 567.17,294.67 567.41,294.97 567.65,295.27 567.89,295.55 568.14,295.78 568.38,295.89 568.62,295.80 568.86,295.57 569.11,295.30 569.35,295.01 569.59,294.71 569.83,294.42 570.07,294.14 570.32,293.88 570.56,293.62 570.80,293.39 571.04,293.17 571.28,292.97 571.53,292.80 571.77,292.64 572.01,292.52 572.25,292.41 572.49,292.33 572.74,292.28 572.98,292.25 573.22,292.25 573.46,292.27 573.70,292.32 573.95,292.40 574.19,292.50 574.43,292.62 574.67,292.77 574.91,292.94 575.16,293.13 575.40,293.35 575.64,293.58 575.88,293.82 576.13,294.08 576.37,294.36 576.61,294.64 576.85,294.93 577.09,295.22 577.34,295.51 577.58,295.77 577.82,295.95 578.06,295.93 578.30,295.73 578.55,295.47 578.79,295.19 579.03,294.90 579.27,294.62 579.51,294.34 579.76,294.08 580.00,293.83 580.24,293.60 580.48,293.39 580.72,293.19 580.97,293.02 581.21,292.86 581.45,292.73 581.69,292.62 581.94,292.54 582.18,292.48 582.42,292.45 582.66,292.44 582.90,292.46 583.15,292.50 583.39,292.56 583.63,292.65 583.87,292.77 584.11,292.90 584.36,293.06 584.60,293.24 584.84,293.43 585.08,293.65 585.32,293.88 585.57,294.12 585.81,294.38 586.05,294.64 586.29,294.91 586.53,295.18 586.78,295.44 587.02,295.66 587.26,295.81 587.50,295.82 587.75,295.68 587.99,295.46 588.23,295.21 588.47,294.94 588.71,294.68 588.96,294.42 589.20,294.17 589.44,293.93 589.68,293.71 589.92,293.50 590.17,293.31 590.41,293.14 590.65,292.99 590.89,292.87 591.13,292.76 591.38,292.68 591.62,292.62 591.86,292.58 592.10,292.57 592.35,292.58 592.59,292.62 592.83,292.68 593.07,292.77 593.31,292.87 593.56,293.00 593.80,293.15 594.04,293.32 594.28,293.51 594.52,293.72 594.77,293.94 595.01,294.17 595.25,294.42 595.49,294.67 595.73,294.93 595.98,295.19 596.22,295.44 596.46,295.66 596.70,295.81 596.94,295.83 597.19,295.70 597.43,295.49 597.67,295.25 597.91,295.00 598.15,294.74 598.40,294.49 598.64,294.24 598.88,294.01 599.12,293.79 599.37,293.59 599.61,293.40 599.85,293.23 600.09,293.09 600.33,292.96 600.58,292.85 600.82,292.77 601.06,292.71 601.30,292.67 601.54,292.66 601.79,292.67 602.03,292.70 602.27,292.76 602.51,292.84 602.75,292.94 603.00,293.06 603.24,293.21 603.48,293.37 603.72,293.55 603.97,293.75 604.21,293.97 604.45,294.20 604.69,294.44 604.93,294.68 605.18,294.94 605.42,295.19 605.66,295.44 605.90,295.67 606.14,295.83 606.39,295.86 606.63,295.74 606.87,295.54 607.11,295.30 607.35,295.05 607.60,294.79 607.84,294.54 608.08,294.30 608.32,294.07 608.56,293.85 608.81,293.65 609.05,293.46 609.29,293.29 609.53,293.14 609.77,293.01 610.02,292.90 610.26,292.82 610.50,292.75 610.74,292.71 610.99,292.70 611.23,292.70 611.47,292.73 611.71,292.78 611.95,292.86 612.20,292.95 612.44,293.07 612.68,293.21 612.92,293.37 613.16,293.55 613.41,293.74 613.65,293.95 613.89,294.18 614.13,294.42 614.37,294.66 614.62,294.92 614.86,295.18 615.10,295.43 615.34,295.67 615.59,295.87 615.83,295.94 616.07,295.85 616.31,295.64 616.55,295.40 616.80,295.14 617.04,294.88 617.28,294.63 617.52,294.38 617.76,294.15 618.01,293.92 618.25,293.71 618.49,293.52 618.73,293.35 618.97,293.19 619.22,293.05 619.46,292.94 619.70,292.84 619.94,292.77 620.18,292.72 620.43,292.70 620.67,292.69 620.91,292.71 621.15,292.75 621.39,292.82 621.64,292.91 621.88,293.01 622.12,293.14 622.36,293.29 622.61,293.46 622.85,293.65 623.09,293.85 623.33,294.06 623.57,294.29 623.82,294.53 624.06,294.78 624.30,295.04 624.54,295.29 624.78,295.54 625.03,295.76 625.27,295.90 625.51,295.90 625.75,295.75 625.99,295.53 626.24,295.29 626.48,295.04 626.72,294.79 626.96,294.54 627.20,294.31 627.45,294.08 627.69,293.87 627.93,293.68 628.17,293.50 628.42,293.34 628.66,293.19 628.90,293.07 629.14,292.97 629.38,292.89 629.63,292.83 629.87,292.80 630.11,292.78 630.35,292.79 630.59,292.82 630.84,292.88 631.08,292.96 631.32,293.05 631.56,293.17 631.80,293.31 632.05,293.47 632.29,293.64 632.53,293.83 632.77,294.04 633.01,294.26 633.26,294.49 633.50,294.74 633.74,294.98 633.98,295.23 634.23,295.48 634.47,295.71 634.71,295.89 634.95,295.94 635.19,295.83 635.44,295.64 635.68,295.40 635.92,295.15 636.16,294.90 636.40,294.66 636.65,294.43 636.89,294.20 637.13,293.99 637.37,293.79 637.61,293.61 637.86,293.44 638.10,293.29 638.34,293.17 638.58,293.06 638.83,292.97 639.07,292.91 639.31,292.86 639.55,292.84 639.79,292.84 640.04,292.86 640.28,292.91 640.52,292.97 640.76,293.06 641.00,293.17 641.25,293.30 641.49,293.44 641.73,293.61 641.97,293.79 642.21,293.98 642.46,294.19 642.70,294.41 642.94,294.64 643.18,294.88 643.42,295.12 643.67,295.36 643.91,295.59 644.15,295.78 644.39,295.89 644.63,295.87 644.88,295.72 645.12,295.51 645.36,295.28 645.60,295.04 645.85,294.81 646.09,294.58 646.33,294.36 646.57,294.15 646.81,293.95 647.06,293.77 647.30,293.61 647.54,293.46 647.78,293.33 648.02,293.22 648.27,293.13 648.51,293.06 648.75,293.01 648.99,292.98 649.23,292.98 649.48,293.00 649.72,293.04 649.96,293.10 650.20,293.18 650.44,293.28 650.69,293.40 650.93,293.54 651.17,293.69 651.41,293.87 651.66,294.05 651.90,294.26 652.14,294.47 652.38,294.69 652.62,294.92 652.87,295.16 653.11,295.39 653.35,295.61 653.59,295.79 653.83,295.88 654.08,295.85 654.32,295.70 654.56,295.50 654.80,295.27 655.04,295.04 655.29,294.81 655.53,294.58 655.77,294.36 656.01,294.15 656.25,293.96 656.50,293.77 656.74,293.61 656.98,293.46 657.22,293.33 657.47,293.22 657.71,293.12 657.95,293.05 658.19,293.00 658.43,292.97 658.68,292.96 658.92,292.98 659.16,293.01 659.40,293.07 659.64,293.14 659.89,293.24 660.13,293.36 660.37,293.49 660.61,293.65 660.85,293.81 661.10,294.00 661.34,294.20 661.58,294.41 661.82,294.63 662.07,294.86 662.31,295.10 662.55,295.33 662.79,295.56 663.03,295.76 663.28,295.91 663.52,295.92 663.76,295.80 664.00,295.60 664.24,295.38 664.49,295.15 664.73,294.91 664.97,294.68 665.21,294.46 665.45,294.25 665.70,294.05 665.94,293.87 666.18,293.70 666.42,293.55 666.66,293.41 666.91,293.29 667.15,293.20 667.39,293.12 667.63,293.06 667.88,293.03 668.12,293.02 668.36,293.02 668.60,293.05 668.84,293.10 669.09,293.17 669.33,293.26 669.57,293.37 669.81,293.50 670.05,293.65 670.30,293.81 670.54,293.99 670.78,294.19 671.02,294.39 671.26,294.61 671.51,294.84 671.75,295.07 671.99,295.30 672.23,295.53 672.47,295.73 672.72,295.88 672.96,295.92 673.20,295.81 673.44,295.63 673.68,295.41 673.93,295.18 674.17,294.95 674.41,294.72 674.65,294.50 674.90,294.29 675.14,294.09 675.38,293.90 675.62,293.73 675.86,293.57 676.11,293.43 676.35,293.31 676.59,293.21 676.83,293.13 677.07,293.07 677.32,293.03 677.56,293.01 677.80,293.02 678.04,293.04 678.28,293.09 678.53,293.15 678.77,293.24 679.01,293.34 679.25,293.47 679.50,293.61 679.74,293.77 679.98,293.95 680.22,294.14 680.46,294.34 680.71,294.56 680.95,294.78 681.19,295.01 681.43,295.25 681.67,295.48 681.92,295.69 682.16,295.86 682.40,295.94" fill="none" stroke="#D95319" stroke-width="1.5" stroke-linejoin="round"/>
<text x="392.00" y="312.30" font-size="11.8" text-anchor="middle" font-weight="bold" fill="#1a1a1a" stroke="#1a1a1a" stroke-width="0.2" >0</text>
<text x="430.80" y="312.30" font-size="11.8" text-anchor="middle" font-weight="bold" fill="#1a1a1a" stroke="#1a1a1a" stroke-width="0.2" >2</text>
<text x="469.60" y="312.30" font-size="11.8" text-anchor="middle" font-weight="bold" fill="#1a1a1a" stroke="#1a1a1a" stroke-width="0.2" >4</text>
<text x="508.40" y="312.30" font-size="11.8" text-anchor="middle" font-weight="bold" fill="#1a1a1a" stroke="#1a1a1a" stroke-width="0.2" >6</text>
<text x="547.20" y="312.30" font-size="11.8" text-anchor="middle" font-weight="bold" fill="#1a1a1a" stroke="#1a1a1a" stroke-width="0.2" >8</text>
<text x="586.00" y="312.30" font-size="11.8" text-anchor="middle" font-weight="bold" fill="#1a1a1a" stroke="#1a1a1a" stroke-width="0.2" >10</text>
<text x="624.80" y="312.30" font-size="11.8" text-anchor="middle" font-weight="bold" fill="#1a1a1a" stroke="#1a1a1a" stroke-width="0.2" >12</text>
<text x="663.60" y="312.30" font-size="11.8" text-anchor="middle" font-weight="bold" fill="#1a1a1a" stroke="#1a1a1a" stroke-width="0.2" >14</text>
<text x="388.00" y="300.70" font-size="11.8" text-anchor="end" font-weight="bold" fill="#1a1a1a" stroke="#1a1a1a" stroke-width="0.2" >0</text>
<text x="388.00" y="254.05" font-size="11.8" text-anchor="end" font-weight="bold" fill="#1a1a1a" stroke="#1a1a1a" stroke-width="0.2" >0.05</text>
<text x="388.00" y="207.40" font-size="11.8" text-anchor="end" font-weight="bold" fill="#1a1a1a" stroke="#1a1a1a" stroke-width="0.2" >0.1</text>
<text x="388.00" y="160.75" font-size="11.8" text-anchor="end" font-weight="bold" fill="#1a1a1a" stroke="#1a1a1a" stroke-width="0.2" >0.15</text>
<text x="388.00" y="114.10" font-size="11.8" text-anchor="end" font-weight="bold" fill="#1a1a1a" stroke="#1a1a1a" stroke-width="0.2" >0.2</text>
<text x="388.00" y="67.45" font-size="11.8" text-anchor="end" font-weight="bold" fill="#1a1a1a" stroke="#1a1a1a" stroke-width="0.2" >0.25</text>
<text x="388.00" y="20.80" font-size="11.8" text-anchor="end" font-weight="bold" fill="#1a1a1a" stroke="#1a1a1a" stroke-width="0.2" >0.3</text>
<text x="537.00" y="329.30" font-size="13.0" text-anchor="middle" font-weight="bold" fill="#1a1a1a" stroke="#1a1a1a" stroke-width="0.2" >Frequency (Hz)</text>
<text x="537.00" y="11.20" font-size="13.0" text-anchor="middle" font-weight="bold" fill="#000" stroke="#000" stroke-width="0.2" >Frequency domain</text>
<text x="359.20" y="156.90" font-size="13.0" text-anchor="middle" font-weight="bold" fill="#1a1a1a" stroke="#1a1a1a" stroke-width="0.2" transform="rotate(-90 359.2 156.9)">Magnitude (dB)</text>
<rect x="563.5" y="21.6" width="113.0" height="28.9" fill="#fff" stroke="#262626" stroke-width="0.5"/>
<line x1="566" y1="29.6" x2="585.4" y2="29.6" stroke="#0072BD" stroke-width="1.5"/>
<text x="587.60" y="33.60" font-size="10.6" text-anchor="start" font-weight="bold" fill="#000" stroke="#000" stroke-width="0.2" >190 ms Robot</text>
<line x1="566" y1="43.9" x2="585.4" y2="43.9" stroke="#D95319" stroke-width="1.5"/>
<text x="587.60" y="47.90" font-size="10.6" text-anchor="start" font-weight="bold" fill="#000" stroke="#000" stroke-width="0.2" >Slow Fish Motion</text>
<text x="359.00" y="345.20" font-size="12.0" text-anchor="middle" font-weight="bold" fill="#000" stroke="#000" stroke-width="0.2" >(a)</text>
<rect x="39.6" y="398.4" width="289.90" height="280.00" fill="none" stroke="#262626" stroke-width="0.5"/>
<path d="M107.24,678.4V675.50M107.24,398.4V401.30M179.72,678.4V675.50M179.72,398.4V401.30M252.19,678.4V675.50M252.19,398.4V401.30M324.67,678.4V675.50M324.67,398.4V401.30M39.6,650.40H42.50M329.5,650.40H326.60M39.6,622.40H42.50M329.5,622.40H326.60M39.6,594.40H42.50M329.5,594.40H326.60M39.6,566.40H42.50M329.5,566.40H326.60M39.6,538.40H42.50M329.5,538.40H326.60M39.6,510.40H42.50M329.5,510.40H326.60M39.6,482.40H42.50M329.5,482.40H326.60M39.6,454.40H42.50M329.5,454.40H326.60M39.6,426.40H42.50M329.5,426.40H326.60" stroke="#262626" stroke-width="0.5" fill="none"/>
<polyline clip-path="url(#cBL)" points="39.60,520.41 44.43,524.92 49.26,529.69 54.09,534.67 58.93,539.43 63.76,543.23 68.59,544.96 73.42,543.43 78.25,537.75 83.09,527.77 87.92,514.93 92.75,500.73 97.58,486.31 102.41,472.74 107.24,461.76 112.07,455.15 116.91,453.32 121.74,456.05 126.57,462.71 131.40,472.40 136.23,484.44 141.06,498.88 145.90,521.55 150.73,535.39 155.56,548.27 160.39,561.32 165.22,571.57 170.05,577.30 174.89,577.90 179.72,572.94 184.55,562.89 189.38,549.96 194.21,535.54 199.04,514.90 203.88,493.91 208.71,478.01 213.54,465.33 218.37,453.11 223.20,443.65 228.03,439.15 232.87,439.72 237.70,444.62 242.53,452.83 247.36,468.25 252.19,487.12 257.02,504.92 261.86,522.46 266.69,540.82 271.52,560.31 276.35,574.88 281.18,586.28 286.01,596.15 290.85,598.55 295.68,594.06 300.51,584.45 305.34,571.79 310.17,558.32 315.00,545.66 319.84,534.57 324.67,525.67 329.50,519.50" fill="none" stroke="#0072BD" stroke-width="1.5" stroke-linejoin="round"/>
<polyline clip-path="url(#cBL)" points="39.60,529.63 44.43,514.09 49.26,505.99 54.09,503.82 58.93,510.50 63.76,521.83 68.59,533.10 73.42,539.42 78.25,537.24 83.09,525.60 87.92,505.68 92.75,488.76 97.58,474.30 102.41,468.76 107.24,471.55 112.07,482.15 116.91,494.35 121.74,505.06 126.57,513.38 131.40,517.14 136.23,518.75 141.06,521.62 145.90,528.05 150.73,538.51 155.56,549.54 160.39,557.82 165.22,558.15 170.05,548.46 174.89,525.98 179.72,496.44 184.55,468.64 189.38,442.60 194.21,431.41 199.04,434.47 203.88,451.43 208.71,478.41 213.54,509.56 218.37,537.69 223.20,558.29 228.03,572.96 232.87,577.20 237.70,575.05 242.53,568.29 247.36,555.94 252.19,539.51 257.02,518.54 261.86,488.05 266.69,455.42 271.52,425.67 276.35,404.48 281.18,398.66 286.01,414.57 290.85,454.35 295.68,507.56 300.51,568.74 305.34,620.95 310.17,654.28 315.00,659.54 319.84,633.77 324.67,583.02 329.50,519.44" fill="none" stroke="#D95319" stroke-width="1.5" stroke-linejoin="round"/>
<text x="107.24" y="693.90" font-size="11.8" text-anchor="middle" font-weight="bold" fill="#1a1a1a" stroke="#1a1a1a" stroke-width="0.2" >500</text>
<text x="179.72" y="693.90" font-size="11.8" text-anchor="middle" font-weight="bold" fill="#1a1a1a" stroke="#1a1a1a" stroke-width="0.2" >1000</text>
<text x="252.19" y="693.90" font-size="11.8" text-anchor="middle" font-weight="bold" fill="#1a1a1a" stroke="#1a1a1a" stroke-width="0.2" >1500</text>
<text x="324.67" y="693.90" font-size="11.8" text-anchor="middle" font-weight="bold" fill="#1a1a1a" stroke="#1a1a1a" stroke-width="0.2" >2000</text>
<text x="35.40" y="682.70" font-size="11.8" text-anchor="end" font-weight="bold" fill="#1a1a1a" stroke="#1a1a1a" stroke-width="0.2" >-12</text>
<text x="35.40" y="654.70" font-size="11.8" text-anchor="end" font-weight="bold" fill="#1a1a1a" stroke="#1a1a1a" stroke-width="0.2" >-10</text>
<text x="35.40" y="626.70" font-size="11.8" text-anchor="end" font-weight="bold" fill="#1a1a1a" stroke="#1a1a1a" stroke-width="0.2" >-8</text>
<text x="35.40" y="598.70" font-size="11.8" text-anchor="end" font-weight="bold" fill="#1a1a1a" stroke="#1a1a1a" stroke-width="0.2" >-6</text>
<text x="35.40" y="570.70" font-size="11.8" text-anchor="end" font-weight="bold" fill="#1a1a1a" stroke="#1a1a1a" stroke-width="0.2" >-4</text>
<text x="35.40" y="542.70" font-size="11.8" text-anchor="end" font-weight="bold" fill="#1a1a1a" stroke="#1a1a1a" stroke-width="0.2" >-2</text>
<text x="35.40" y="514.70" font-size="11.8" text-anchor="end" font-weight="bold" fill="#1a1a1a" stroke="#1a1a1a" stroke-width="0.2" >0</text>
<text x="35.40" y="486.70" font-size="11.8" text-anchor="end" font-weight="bold" fill="#1a1a1a" stroke="#1a1a1a" stroke-width="0.2" >2</text>
<text x="35.40" y="458.70" font-size="11.8" text-anchor="end" font-weight="bold" fill="#1a1a1a" stroke="#1a1a1a" stroke-width="0.2" >4</text>
<text x="35.40" y="430.70" font-size="11.8" text-anchor="end" font-weight="bold" fill="#1a1a1a" stroke="#1a1a1a" stroke-width="0.2" >6</text>
<text x="35.40" y="402.70" font-size="11.8" text-anchor="end" font-weight="bold" fill="#1a1a1a" stroke="#1a1a1a" stroke-width="0.2" >8</text>
<text x="184.50" y="710.90" font-size="13.0" text-anchor="middle" font-weight="bold" fill="#1a1a1a" stroke="#1a1a1a" stroke-width="0.2" >Time (ms)</text>
<text x="184.50" y="393.00" font-size="13.0" text-anchor="middle" font-weight="bold" fill="#000" stroke="#000" stroke-width="0.2" >Time domain</text>
<text x="13.50" y="538.40" font-size="13.0" text-anchor="middle" font-weight="bold" fill="#1a1a1a" stroke="#1a1a1a" stroke-width="0.2" transform="rotate(-90 13.5 538.4)">Amplitude (m)</text>
<text x="40.0" y="398.0" font-size="14.2" fill="#1a1a1a">×</text>
<text x="49.60" y="395.50" font-size="11.8" text-anchor="start" font-weight="bold" fill="#1a1a1a" stroke="#1a1a1a" stroke-width="0.2" >10</text>
<text x="62.80" y="390.00" font-size="9.0" text-anchor="start" font-weight="bold" fill="#1a1a1a" stroke="#1a1a1a" stroke-width="0.2" >-3</text>
<rect x="388.5" y="397.0" width="290.00" height="280.50" fill="none" stroke="#262626" stroke-width="0.5"/>
<path d="M427.40,677.5V674.60M427.40,397.0V399.90M466.15,677.5V674.60M466.15,397.0V399.90M504.90,677.5V674.60M504.90,397.0V399.90M543.65,677.5V674.60M543.65,397.0V399.90M582.40,677.5V674.60M582.40,397.0V399.90M621.15,677.5V674.60M621.15,397.0V399.90M659.90,677.5V674.60M659.90,397.0V399.90M388.5,637.43H391.40M678.5,637.43H675.60M388.5,597.36H391.40M678.5,597.36H675.60M388.5,557.29H391.40M678.5,557.29H675.60M388.5,517.21H391.40M678.5,517.21H675.60M388.5,477.14H391.40M678.5,477.14H675.60M388.5,437.07H391.40M678.5,437.07H675.60" stroke="#262626" stroke-width="0.5" fill="none"/>
<polyline clip-path="url(#cBR)" points="388.50,599.52 388.74,599.63 388.98,599.96 389.23,600.51 389.47,601.26 389.71,602.20 389.95,603.33 390.19,604.60 390.44,606.01 390.68,607.53 390.92,609.12 391.16,610.74 391.40,612.35 391.65,613.92 391.89,615.38 392.13,616.70 392.37,617.83 392.62,618.71 392.86,619.30 393.10,619.58 393.34,619.52 393.58,619.12 393.83,618.37 394.07,617.30 394.31,615.94 394.55,614.32 394.79,612.50 395.04,610.51 395.28,608.41 395.52,606.25 395.76,604.08 396.00,601.93 396.25,599.85 396.49,597.87 396.73,596.04 396.97,594.37 397.21,592.91 397.46,591.66 397.70,590.65 397.94,589.90 398.18,589.42 398.43,589.21 398.67,589.29 398.91,589.65 399.15,590.29 399.39,591.19 399.64,592.36 399.88,593.75 400.12,595.35 400.36,597.11 400.60,599.00 400.85,600.95 401.09,602.89 401.33,604.75 401.57,606.42 401.81,607.80 402.06,608.78 402.30,609.24 402.54,609.08 402.78,608.20 403.02,606.54 403.27,604.09 403.51,600.85 403.75,596.85 403.99,592.15 404.24,586.84 404.48,580.97 404.72,574.65 404.96,567.93 405.20,560.89 405.45,553.60 405.69,546.11 405.93,538.50 406.17,530.79 406.41,523.05 406.66,515.32 406.90,507.64 407.14,500.05 407.38,492.59 407.62,485.29 407.87,478.18 408.11,471.30 408.35,464.66 408.59,458.31 408.83,452.26 409.08,446.54 409.32,441.17 409.56,436.17 409.80,431.56 410.05,427.35 410.29,423.55 410.53,420.19 410.77,417.27 411.01,414.80 411.26,412.79 411.50,411.24 411.74,410.16 411.98,409.55 412.22,409.41 412.47,409.73 412.71,410.52 412.95,411.78 413.19,413.49 413.43,415.64 413.68,418.23 413.92,421.25 414.16,424.68 414.40,428.51 414.64,432.73 414.89,437.32 415.13,442.27 415.37,447.54 415.61,453.14 415.86,459.03 416.10,465.20 416.34,471.62 416.58,478.27 416.82,485.14 417.07,492.19 417.31,499.41 417.55,506.77 417.79,514.26 418.03,521.83 418.28,529.48 418.52,537.18 418.76,544.90 419.00,552.63 419.24,560.34 419.49,568.01 419.73,575.63 419.97,583.15 420.21,590.58 420.45,597.89 420.70,605.06 420.94,612.07 421.18,618.91 421.42,625.56 421.67,632.00 421.91,638.22 422.15,644.20 422.39,649.91 422.63,655.34 422.88,660.42 423.12,665.08 423.36,669.06 423.60,671.58 423.84,671.30 424.09,668.89 424.33,665.86 424.57,662.80 424.81,659.87 425.05,657.16 425.30,654.68 425.54,652.45 425.78,650.48 426.02,648.76 426.26,647.29 426.51,646.06 426.75,645.08 426.99,644.33 427.23,643.80 427.48,643.48 427.72,643.38 427.96,643.46 428.20,643.74 428.44,644.18 428.69,644.80 428.93,645.56 429.17,646.46 429.41,647.49 429.65,648.64 429.90,649.89 430.14,651.23 430.38,652.65 430.62,654.14 430.86,655.68 431.11,657.28 431.35,658.90 431.59,660.54 431.83,662.20 432.07,663.85 432.32,665.49 432.56,667.10 432.80,668.67 433.04,670.17 433.29,671.58 433.53,672.83 433.77,673.82 434.01,674.37 434.25,674.31 434.50,673.75 434.74,672.93 434.98,672.00 435.22,671.05 435.46,670.14 435.71,669.27 435.95,668.46 436.19,667.72 436.43,667.05 436.67,666.46 436.92,665.94 437.16,665.50 437.40,665.13 437.64,664.84 437.88,664.62 438.13,664.47 438.37,664.38 438.61,664.36 438.85,664.40 439.10,664.50 439.34,664.66 439.58,664.86 439.82,665.11 440.06,665.40 440.31,665.74 440.55,666.10 440.79,666.50 441.03,666.92 441.27,667.37 441.52,667.83 441.76,668.31 442.00,668.79 442.24,669.29 442.48,669.78 442.73,670.28 442.97,670.77 443.21,671.25 443.45,671.72 443.69,672.18 443.94,672.63 444.18,673.05 444.42,673.45 444.66,673.83 444.91,674.19 445.15,674.51 445.39,674.81 445.63,675.07 445.87,675.31 446.12,675.51 446.36,675.68 446.60,675.81 446.84,675.92 447.08,675.99 447.33,676.05 447.57,676.08 447.81,676.10 448.05,676.12 448.29,676.12 448.54,676.11 448.78,676.11 449.02,676.09 449.26,676.08 449.50,676.05 449.75,676.03 449.99,675.99 450.23,675.95 450.47,675.89 450.72,675.83 450.96,675.76 451.20,675.69 451.44,675.61 451.68,675.52 451.93,675.43 452.17,675.33 452.41,675.24 452.65,675.14 452.89,675.05 453.14,674.96 453.38,674.87 453.62,674.78 453.86,674.70 454.10,674.63 454.35,674.56 454.59,674.51 454.83,674.45 455.07,674.41 455.31,674.38 455.56,674.35 455.80,674.34 456.04,674.33 456.28,674.33 456.53,674.35 456.77,674.37 457.01,674.40 457.25,674.44 457.49,674.49 457.74,674.55 457.98,674.61 458.22,674.69 458.46,674.77 458.70,674.87 458.95,674.97 459.19,675.07 459.43,675.19 459.67,675.30 459.91,675.43 460.16,675.55 460.40,675.68 460.64,675.81 460.88,675.94 461.12,676.05 461.37,676.16 461.61,676.25 461.85,676.31 462.09,676.33 462.34,676.32 462.58,676.27 462.82,676.18 463.06,676.06 463.30,675.91 463.55,675.74 463.79,675.56 464.03,675.37 464.27,675.17 464.51,674.96 464.76,674.75 465.00,674.54 465.24,674.33 465.48,674.13 465.72,673.93 465.97,673.73 466.21,673.54 466.45,673.36 466.69,673.18 466.94,673.02 467.18,672.86 467.42,672.72 467.66,672.59 467.90,672.48 468.15,672.37 468.39,672.29 468.63,672.21 468.87,672.16 469.11,672.12 469.36,672.09 469.60,672.09 469.84,672.10 470.08,672.13 470.32,672.17 470.57,672.23 470.81,672.31 471.05,672.41 471.29,672.52 471.53,672.64 471.78,672.78 472.02,672.94 472.26,673.11 472.50,673.29 472.75,673.48 472.99,673.68 473.23,673.89 473.47,674.11 473.71,674.33 473.96,674.56 474.20,674.79 474.44,675.02 474.68,675.25 474.92,675.47 475.17,675.68 475.41,675.87 475.65,676.04 475.89,676.18 476.13,676.27 476.38,676.32 476.62,676.32 476.86,676.28 477.10,676.19 477.34,676.09 477.59,675.96 477.83,675.83 478.07,675.71 478.31,675.58 478.56,675.46 478.80,675.35 479.04,675.26 479.28,675.17 479.52,675.10 479.77,675.04 480.01,675.00 480.25,674.98 480.49,674.97 480.73,674.97 480.98,674.99 481.22,675.03 481.46,675.08 481.70,675.14 481.94,675.22 482.19,675.32 482.43,675.42 482.67,675.54 482.91,675.67 483.15,675.80 483.40,675.95 483.64,676.10 483.88,676.27 484.12,676.43 484.37,676.60 484.61,676.78 484.85,676.95 485.09,677.13 485.33,677.30 485.58,677.42 485.82,677.32 486.06,677.16 486.30,677.00 486.54,676.84 486.79,676.69 487.03,676.55 487.27,676.41 487.51,676.29 487.75,676.18 488.00,676.08 488.24,675.99 488.48,675.91 488.72,675.85 488.96,675.80 489.21,675.76 489.45,675.74 489.69,675.73 489.93,675.73 490.18,675.75 490.42,675.78 490.66,675.82 490.90,675.87 491.14,675.94 491.39,676.01 491.63,676.09 491.87,676.18 492.11,676.27 492.35,676.35 492.60,676.43 492.84,676.50 493.08,676.54 493.32,676.56 493.56,676.54 493.81,676.49 494.05,676.41 494.29,676.30 494.53,676.17 494.77,676.02 495.02,675.87 495.26,675.71 495.50,675.54 495.74,675.38 495.99,675.21 496.23,675.05 496.47,674.89 496.71,674.74 496.95,674.60 497.20,674.46 497.44,674.34 497.68,674.22 497.92,674.11 498.16,674.02 498.41,673.93 498.65,673.86 498.89,673.80 499.13,673.75 499.37,673.72 499.62,673.70 499.86,673.69 500.10,673.70 500.34,673.71 500.58,673.74 500.83,673.78 501.07,673.84 501.31,673.90 501.55,673.98 501.80,674.06 502.04,674.15 502.28,674.26 502.52,674.37 502.76,674.48 503.01,674.61 503.25,674.73 503.49,674.86 503.73,675.00 503.97,675.13 504.22,675.27 504.46,675.41 504.70,675.54 504.94,675.67 505.18,675.80 505.43,675.92 505.67,676.04 505.91,676.15 506.15,676.24 506.39,676.33 506.64,676.41 506.88,676.48 507.12,676.53 507.36,676.57 507.61,676.60 507.85,676.63 508.09,676.64 508.33,676.64 508.57,676.64 508.82,676.64 509.06,676.64 509.30,676.63 509.54,676.62 509.78,676.61 510.03,676.60 510.27,676.59 510.51,676.58 510.75,676.56 510.99,676.54 511.24,676.51 511.48,676.47 511.72,676.43 511.96,676.38 512.20,676.33 512.45,676.26 512.69,676.19 512.93,676.12 513.17,676.04 513.41,675.95 513.66,675.86 513.90,675.77 514.14,675.67 514.38,675.58 514.63,675.48 514.87,675.38 515.11,675.29 515.35,675.20 515.59,675.11 515.84,675.03 516.08,674.95 516.32,674.87 516.56,674.80 516.80,674.74 517.05,674.68 517.29,674.63 517.53,674.58 517.77,674.55 518.01,674.51 518.26,674.49 518.50,674.47 518.74,674.46 518.98,674.46 519.23,674.46 519.47,674.47 519.71,674.48 519.95,674.50 520.19,674.52 520.44,674.55 520.68,674.58 520.92,674.62 521.16,674.66 521.40,674.70 521.65,674.74 521.89,674.79 522.13,674.84 522.37,674.88 522.61,674.93 522.86,674.98 523.10,675.03 523.34,675.08 523.58,675.12 523.82,675.17 524.07,675.22 524.31,675.26 524.55,675.31 524.79,675.36 525.03,675.40 525.28,675.45 525.52,675.50 525.76,675.55 526.00,675.60 526.25,675.65 526.49,675.71 526.73,675.77 526.97,675.83 527.21,675.89 527.46,675.95 527.70,676.02 527.94,676.09 528.18,676.16 528.42,676.22 528.67,676.29 528.91,676.35 529.15,676.41 529.39,676.46 529.63,676.50 529.88,676.53 530.12,676.55 530.36,676.55 530.60,676.53 530.85,676.49 531.09,676.44 531.33,676.38 531.57,676.31 531.81,676.23 532.06,676.15 532.30,676.06 532.54,675.97 532.78,675.88 533.02,675.79 533.27,675.70 533.51,675.62 533.75,675.54 533.99,675.47 534.23,675.40 534.48,675.34 534.72,675.29 534.96,675.25 535.20,675.21 535.44,675.19 535.69,675.17 535.93,675.16 536.17,675.16 536.41,675.17 536.65,675.19 536.90,675.22 537.14,675.26 537.38,675.30 537.62,675.36 537.87,675.42 538.11,675.48 538.35,675.56 538.59,675.63 538.83,675.71 539.08,675.79 539.32,675.87 539.56,675.95 539.80,676.02 540.04,676.09 540.29,676.14 540.53,676.18 540.77,676.20 541.01,676.21 541.25,676.19 541.50,676.15 541.74,676.10 541.98,676.03 542.22,675.95 542.47,675.86 542.71,675.76 542.95,675.66 543.19,675.56 543.43,675.46 543.68,675.35 543.92,675.26 544.16,675.16 544.40,675.07 544.64,674.99 544.89,674.91 545.13,674.84 545.37,674.78 545.61,674.73 545.85,674.69 546.10,674.66 546.34,674.63 546.58,674.62 546.82,674.61 547.06,674.62 547.31,674.63 547.55,674.66 547.79,674.69 548.03,674.73 548.27,674.78 548.52,674.84 548.76,674.90 549.00,674.97 549.24,675.05 549.49,675.13 549.73,675.22 549.97,675.31 550.21,675.40 550.45,675.49 550.70,675.59 550.94,675.68 551.18,675.77 551.42,675.86 551.66,675.94 551.91,676.02 552.15,676.09 552.39,676.15 552.63,676.20 552.87,676.24 553.12,676.28 553.36,676.30 553.60,676.31 553.84,676.31 554.09,676.30 554.33,676.29 554.57,676.28 554.81,676.26 555.05,676.24 555.30,676.22 555.54,676.21 555.78,676.19 556.02,676.18 556.26,676.17 556.51,676.17 556.75,676.17 556.99,676.17 557.23,676.19 557.47,676.20 557.72,676.22 557.96,676.25 558.20,676.28 558.44,676.31 558.68,676.35 558.93,676.39 559.17,676.43 559.41,676.47 559.65,676.52 559.89,676.56 560.14,676.60 560.38,676.64 560.62,676.68 560.86,676.71 561.11,676.74 561.35,676.76 561.59,676.77 561.83,676.78 562.07,676.78 562.32,676.78 562.56,676.77 562.80,676.75 563.04,676.73 563.28,676.71 563.53,676.69 563.77,676.67 564.01,676.64 564.25,676.62 564.49,676.60 564.74,676.58 564.98,676.56 565.22,676.55 565.46,676.53 565.71,676.51 565.95,676.50 566.19,676.49 566.43,676.47 566.67,676.45 566.92,676.44 567.16,676.42 567.40,676.39 567.64,676.37 567.88,676.33 568.13,676.30 568.37,676.26 568.61,676.22 568.85,676.17 569.09,676.12 569.34,676.07 569.58,676.01 569.82,675.95 570.06,675.89 570.30,675.83 570.55,675.78 570.79,675.72 571.03,675.66 571.27,675.60 571.51,675.55 571.76,675.50 572.00,675.46 572.24,675.42 572.48,675.38 572.73,675.35 572.97,675.33 573.21,675.31 573.45,675.30 573.69,675.29 573.94,675.30 574.18,675.31 574.42,675.32 574.66,675.35 574.90,675.38 575.15,675.42 575.39,675.46 575.63,675.52 575.87,675.58 576.11,675.64 576.36,675.71 576.60,675.79 576.84,675.88 577.08,675.97 577.33,676.06 577.57,676.16 577.81,676.26 578.05,676.36 578.29,676.47 578.54,676.58 578.78,676.69 579.02,676.80 579.26,676.91 579.50,677.03 579.75,677.14 579.99,677.24 580.23,677.35 580.47,677.45 580.71,677.43 580.96,677.34 581.20,677.25 581.44,677.16 581.68,677.08 581.92,677.01 582.17,676.94 582.41,676.87 582.65,676.82 582.89,676.77 583.13,676.72 583.38,676.69 583.62,676.66 583.86,676.64 584.10,676.63 584.35,676.63 584.59,676.63 584.83,676.64 585.07,676.66 585.31,676.68 585.56,676.71 585.80,676.75 586.04,676.79 586.28,676.83 586.52,676.88 586.77,676.93 587.01,676.98 587.25,677.02 587.49,677.06 587.73,677.08 587.98,677.10 588.22,677.09 588.46,677.07 588.70,677.03 588.95,676.97 589.19,676.91 589.43,676.85 589.67,676.78 589.91,676.71 590.16,676.64 590.40,676.57 590.64,676.51 590.88,676.45 591.12,676.39 591.37,676.34 591.61,676.29 591.85,676.25 592.09,676.22 592.33,676.19 592.58,676.17 592.82,676.16 593.06,676.15 593.30,676.15 593.54,676.16 593.79,676.18 594.03,676.21 594.27,676.24 594.51,676.28 594.75,676.33 595.00,676.38 595.24,676.45 595.48,676.51 595.72,676.59 595.97,676.67 596.21,676.75 596.45,676.84 596.69,676.93 596.93,677.01 597.18,677.10 597.42,677.16 597.66,677.21 597.90,677.21 598.14,677.17 598.39,677.10 598.63,677.01 598.87,676.91 599.11,676.80 599.35,676.70 599.60,676.60 599.84,676.49 600.08,676.39 600.32,676.30 600.57,676.20 600.81,676.11 601.05,676.03 601.29,675.95 601.53,675.88 601.78,675.82 602.02,675.76 602.26,675.71 602.50,675.67 602.74,675.63 602.99,675.60 603.23,675.58 603.47,675.57 603.71,675.57 603.95,675.57 604.20,675.58 604.44,675.60 604.68,675.63 604.92,675.66 605.16,675.70 605.41,675.75 605.65,675.80 605.89,675.86 606.13,675.92 606.38,675.99 606.62,676.06 606.86,676.14 607.10,676.22 607.34,676.30 607.59,676.39 607.83,676.47 608.07,676.56 608.31,676.65 608.55,676.74 608.80,676.82 609.04,676.91 609.28,676.99 609.52,677.07 609.76,677.15 610.01,677.23 610.25,677.30 610.49,677.36 610.73,677.42 610.97,677.45 611.22,677.44 611.46,677.40 611.70,677.36 611.94,677.32 612.18,677.30 612.43,677.27 612.67,677.26 612.91,677.25 613.15,677.24 613.40,677.24 613.64,677.25 613.88,677.27 614.12,677.28 614.36,677.31 614.61,677.33 614.85,677.36 615.09,677.39 615.33,677.40 615.57,677.39 615.82,677.35 616.06,677.31 616.30,677.26 616.54,677.20 616.78,677.14 617.03,677.07 617.27,677.01 617.51,676.94 617.75,676.88 618.00,676.81 618.24,676.75 618.48,676.68 618.72,676.62 618.96,676.57 619.21,676.51 619.45,676.46 619.69,676.42 619.93,676.37 620.17,676.34 620.42,676.31 620.66,676.28 620.90,676.26 621.14,676.24 621.38,676.23 621.63,676.23 621.87,676.23 622.11,676.23 622.35,676.25 622.59,676.27 622.84,676.29 623.08,676.32 623.32,676.35 623.56,676.38 623.81,676.42 624.05,676.46 624.29,676.51 624.53,676.55 624.77,676.59 625.02,676.63 625.26,676.66 625.50,676.69 625.74,676.71 625.98,676.73 626.23,676.73 626.47,676.72 626.71,676.70 626.95,676.67 627.19,676.63 627.44,676.59 627.68,676.54 627.92,676.48 628.16,676.43 628.40,676.37 628.65,676.31 628.89,676.26 629.13,676.21 629.37,676.16 629.62,676.11 629.86,676.07 630.10,676.04 630.34,676.01 630.58,675.98 630.83,675.96 631.07,675.95 631.31,675.94 631.55,675.94 631.79,675.95 632.04,675.96 632.28,675.98 632.52,676.00 632.76,676.03 633.00,676.07 633.25,676.11 633.49,676.15 633.73,676.20 633.97,676.26 634.21,676.32 634.46,676.38 634.70,676.44 634.94,676.51 635.18,676.57 635.42,676.63 635.67,676.69 635.91,676.75 636.15,676.80 636.39,676.85 636.64,676.88 636.88,676.90 637.12,676.92 637.36,676.92 637.60,676.91 637.85,676.89 638.09,676.86 638.33,676.83 638.57,676.80 638.81,676.76 639.06,676.73 639.30,676.70 639.54,676.67 639.78,676.65 640.02,676.63 640.27,676.61 640.51,676.60 640.75,676.60 640.99,676.60 641.24,676.61 641.48,676.63 641.72,676.65 641.96,676.68 642.20,676.71 642.45,676.75 642.69,676.80 642.93,676.85 643.17,676.90 643.41,676.96 643.66,677.03 643.90,677.10 644.14,677.17 644.38,677.24 644.62,677.32 644.87,677.37 645.11,677.39 645.35,677.35 645.59,677.28 645.83,677.19 646.08,677.11 646.32,677.03 646.56,676.94 646.80,676.86 647.05,676.78 647.29,676.70 647.53,676.62 647.77,676.55 648.01,676.48 648.26,676.42 648.50,676.36 648.74,676.31 648.98,676.26 649.22,676.22 649.47,676.19 649.71,676.16 649.95,676.14 650.19,676.12 650.43,676.11 650.68,676.11 650.92,676.12 651.16,676.13 651.40,676.15 651.64,676.17 651.89,676.21 652.13,676.24 652.37,676.29 652.61,676.33 652.86,676.39 653.10,676.44 653.34,676.50 653.58,676.56 653.82,676.63 654.07,676.69 654.31,676.76 654.55,676.82 654.79,676.87 655.03,676.92 655.28,676.96 655.52,676.99 655.76,677.00 656.00,677.00 656.24,676.98 656.49,676.94 656.73,676.90 656.97,676.85 657.21,676.80 657.45,676.75 657.70,676.69 657.94,676.64 658.18,676.59 658.42,676.55 658.66,676.50 658.91,676.47 659.15,676.43 659.39,676.41 659.63,676.38 659.88,676.37 660.12,676.36 660.36,676.36 660.60,676.36 660.84,676.37 661.09,676.38 661.33,676.40 661.57,676.43 661.81,676.46 662.05,676.49 662.30,676.53 662.54,676.58 662.78,676.62 663.02,676.67 663.26,676.73 663.51,676.78 663.75,676.84 663.99,676.89 664.23,676.94 664.48,676.99 664.72,677.04 664.96,677.07 665.20,677.10 665.44,677.11 665.69,677.11 665.93,677.10 666.17,677.07 666.41,677.04 666.65,677.01 666.90,676.97 667.14,676.94 667.38,676.90 667.62,676.87 667.86,676.84 668.11,676.81 668.35,676.79 668.59,676.77 668.83,676.76 669.07,676.76 669.32,676.75 669.56,676.76 669.80,676.77 670.04,676.78 670.29,676.80 670.53,676.83 670.77,676.86 671.01,676.90 671.25,676.93 671.50,676.97 671.74,677.01 671.98,677.05 672.22,677.09 672.46,677.11 672.71,677.13 672.95,677.13 673.19,677.12 673.43,677.08 673.67,677.04 673.92,676.98 674.16,676.92 674.40,676.85 674.64,676.77 674.88,676.70 675.13,676.63 675.37,676.55 675.61,676.48 675.85,676.41 676.10,676.34 676.34,676.27 676.58,676.21 676.82,676.16 677.06,676.11 677.31,676.06 677.55,676.02 677.79,675.98 678.03,675.95 678.27,675.93 678.52,675.91 678.76,675.90 679.00,675.90" fill="none" stroke="#0072BD" stroke-width="1.5" stroke-linejoin="round"/>
<polyline clip-path="url(#cBR)" points="388.50,626.02 388.74,626.05 388.98,626.15 389.23,626.32 389.47,626.54 389.71,626.82 389.95,627.14 390.19,627.50 390.44,627.88 390.68,628.27 390.92,628.66 391.16,629.02 391.40,629.36 391.65,629.65 391.89,629.88 392.13,630.03 392.37,630.10 392.62,630.08 392.86,629.97 393.10,629.75 393.34,629.44 393.58,629.03 393.83,628.54 394.07,627.97 394.31,627.34 394.55,626.65 394.79,625.93 395.04,625.20 395.28,624.46 395.52,623.73 395.76,623.03 396.00,622.37 396.25,621.77 396.49,621.24 396.73,620.79 396.97,620.43 397.21,620.16 397.46,619.99 397.70,619.93 397.94,619.97 398.18,620.11 398.43,620.36 398.67,620.69 398.91,621.12 399.15,621.61 399.39,622.16 399.64,622.76 399.88,623.37 400.12,623.99 400.36,624.58 400.60,625.12 400.85,625.58 401.09,625.94 401.33,626.17 401.57,626.25 401.81,626.16 402.06,625.88 402.30,625.40 402.54,624.72 402.78,623.84 403.02,622.78 403.27,621.55 403.51,620.16 403.75,618.65 403.99,617.04 404.24,615.36 404.48,613.63 404.72,611.89 404.96,610.17 405.20,608.49 405.45,606.89 405.69,605.38 405.93,603.99 406.17,602.74 406.41,601.66 406.66,600.75 406.90,600.05 407.14,599.55 407.38,599.28 407.62,599.25 407.87,599.45 408.11,599.89 408.35,600.57 408.59,601.50 408.83,602.65 409.08,604.02 409.32,605.59 409.56,607.33 409.80,609.20 410.05,611.17 410.29,613.18 410.53,615.15 410.77,617.02 411.01,618.67 411.26,620.00 411.50,620.89 411.74,621.22 411.98,620.87 412.22,619.78 412.47,617.88 412.71,615.17 412.95,611.68 413.19,607.46 413.43,602.57 413.68,597.11 413.92,591.14 414.16,584.75 414.40,577.99 414.64,570.93 414.89,563.62 415.13,556.13 415.37,548.49 415.61,540.75 415.86,532.95 416.10,525.13 416.34,517.32 416.58,509.55 416.82,501.85 417.07,494.27 417.31,486.81 417.55,479.52 417.79,472.41 418.03,465.51 418.28,458.84 418.52,452.43 418.76,446.29 419.00,440.45 419.24,434.92 419.49,429.72 419.73,424.86 419.97,420.36 420.21,416.23 420.45,412.48 420.70,409.12 420.94,406.16 421.18,403.60 421.42,401.46 421.67,399.73 421.91,398.41 422.15,397.51 422.39,397.03 422.63,396.96 422.88,397.30 423.12,398.04 423.36,399.18 423.60,400.72 423.84,402.63 424.09,404.92 424.33,407.56 424.57,410.54 424.81,413.86 425.05,417.49 425.30,421.42 425.54,425.63 425.78,430.10 426.02,434.80 426.26,439.73 426.51,444.85 426.75,450.14 426.99,455.58 427.23,461.15 427.48,466.81 427.72,472.54 427.96,478.32 428.20,484.12 428.44,489.91 428.69,495.65 428.93,501.34 429.17,506.93 429.41,512.40 429.65,517.72 429.90,522.87 430.14,527.83 430.38,532.57 430.62,537.07 430.86,541.31 431.11,545.29 431.35,548.99 431.59,552.41 431.83,555.54 432.07,558.40 432.32,560.99 432.56,563.32 432.80,565.42 433.04,567.30 433.29,568.99 433.53,570.52 433.77,571.93 434.01,573.23 434.25,574.47 434.50,575.67 434.74,576.87 434.98,578.09 435.22,579.35 435.46,580.69 435.71,582.11 435.95,583.64 436.19,585.30 436.43,587.09 436.67,589.03 436.92,591.11 437.16,593.35 437.40,595.73 437.64,598.26 437.88,600.92 438.13,603.70 438.37,606.59 438.61,609.57 438.85,612.59 439.10,615.64 439.34,618.66 439.58,621.60 439.82,624.41 440.06,627.01 440.31,629.32 440.55,631.26 440.79,632.72 441.03,633.62 441.27,633.91 441.52,633.56 441.76,632.55 442.00,630.94 442.24,628.78 442.48,626.16 442.73,623.16 442.97,619.87 443.21,616.36 443.45,612.70 443.69,608.95 443.94,605.16 444.18,601.38 444.42,597.64 444.66,593.99 444.91,590.44 445.15,587.04 445.39,583.79 445.63,580.73 445.87,577.86 446.12,575.22 446.36,572.80 446.60,570.64 446.84,568.73 447.08,567.08 447.33,565.71 447.57,564.62 447.81,563.81 448.05,563.29 448.29,563.07 448.54,563.13 448.78,563.49 449.02,564.13 449.26,565.06 449.50,566.27 449.75,567.75 449.99,569.50 450.23,571.52 450.47,573.78 450.72,576.28 450.96,579.00 451.20,581.95 451.44,585.09 451.68,588.42 451.93,591.93 452.17,595.59 452.41,599.39 452.65,603.31 452.89,607.34 453.14,611.44 453.38,615.61 453.62,619.82 453.86,624.05 454.10,628.27 454.35,632.45 454.59,636.57 454.83,640.58 455.07,644.45 455.31,648.11 455.56,651.49 455.80,654.51 456.04,657.04 456.28,658.95 456.53,660.10 456.77,660.43 457.01,659.98 457.25,658.91 457.49,657.41 457.74,655.64 457.98,653.74 458.22,651.82 458.46,649.94 458.70,648.15 458.95,646.49 459.19,644.97 459.43,643.63 459.67,642.47 459.91,641.49 460.16,640.71 460.40,640.13 460.64,639.75 460.88,639.56 461.12,639.57 461.37,639.77 461.61,640.16 461.85,640.72 462.09,641.46 462.34,642.35 462.58,643.40 462.82,644.59 463.06,645.91 463.30,647.34 463.55,648.88 463.79,650.49 464.03,652.18 464.27,653.91 464.51,655.66 464.76,657.41 465.00,659.13 465.24,660.77 465.48,662.30 465.72,663.66 465.97,664.78 466.21,665.59 466.45,666.04 466.69,666.11 466.94,665.80 467.18,665.18 467.42,664.33 467.66,663.31 467.90,662.21 468.15,661.07 468.39,659.94 468.63,658.84 468.87,657.80 469.11,656.83 469.36,655.96 469.60,655.20 469.84,654.54 470.08,654.00 470.32,653.58 470.57,653.29 470.81,653.12 471.05,653.08 471.29,653.17 471.53,653.38 471.78,653.71 472.02,654.15 472.26,654.71 472.50,655.38 472.75,656.14 472.99,657.00 473.23,657.94 473.47,658.95 473.71,660.02 473.96,661.14 474.20,662.30 474.44,663.47 474.68,664.64 474.92,665.78 475.17,666.86 475.41,667.83 475.65,668.66 475.89,669.28 476.13,669.65 476.38,669.73 476.62,669.53 476.86,669.08 477.10,668.44 477.34,667.67 477.59,666.82 477.83,665.94 478.07,665.05 478.31,664.18 478.56,663.35 478.80,662.57 479.04,661.85 479.28,661.21 479.52,660.64 479.77,660.17 480.01,659.78 480.25,659.48 480.49,659.28 480.73,659.18 480.98,659.17 481.22,659.25 481.46,659.43 481.70,659.70 481.94,660.06 482.19,660.50 482.43,661.02 482.67,661.62 482.91,662.28 483.15,663.00 483.40,663.78 483.64,664.60 483.88,665.45 484.12,666.32 484.37,667.19 484.61,668.06 484.85,668.88 485.09,669.64 485.33,670.30 485.58,670.83 485.82,671.17 486.06,671.31 486.30,671.22 486.54,670.94 486.79,670.50 487.03,669.94 487.27,669.31 487.51,668.63 487.75,667.94 488.00,667.26 488.24,666.60 488.48,665.97 488.72,665.39 488.96,664.87 489.21,664.41 489.45,664.01 489.69,663.68 489.93,663.42 490.18,663.23 490.42,663.12 490.66,663.09 490.90,663.13 491.14,663.25 491.39,663.44 491.63,663.70 491.87,664.03 492.11,664.42 492.35,664.87 492.60,665.38 492.84,665.94 493.08,666.55 493.32,667.19 493.56,667.85 493.81,668.54 494.05,669.23 494.29,669.91 494.53,670.56 494.77,671.17 495.02,671.69 495.26,672.11 495.50,672.39 495.74,672.50 495.99,672.44 496.23,672.22 496.47,671.87 496.71,671.42 496.95,670.91 497.20,670.37 497.44,669.81 497.68,669.26 497.92,668.73 498.16,668.23 498.41,667.77 498.65,667.35 498.89,666.98 499.13,666.67 499.37,666.41 499.62,666.21 499.86,666.07 500.10,666.00 500.34,665.99 500.58,666.04 500.83,666.16 501.07,666.34 501.31,666.57 501.55,666.87 501.80,667.22 502.04,667.62 502.28,668.07 502.52,668.56 502.76,669.10 503.01,669.66 503.25,670.25 503.49,670.85 503.73,671.47 503.97,672.07 504.22,672.65 504.46,673.17 504.70,673.62 504.94,673.94 505.18,674.10 505.43,674.07 505.67,673.87 505.91,673.53 506.15,673.08 506.39,672.58 506.64,672.05 506.88,671.51 507.12,670.98 507.36,670.46 507.61,669.97 507.85,669.51 508.09,669.10 508.33,668.72 508.57,668.40 508.82,668.12 509.06,667.90 509.30,667.73 509.54,667.62 509.78,667.56 510.03,667.56 510.27,667.61 510.51,667.72 510.75,667.89 510.99,668.10 511.24,668.37 511.48,668.69 511.72,669.05 511.96,669.45 512.20,669.88 512.45,670.35 512.69,670.84 512.93,671.36 513.17,671.88 513.41,672.40 513.66,672.90 513.90,673.36 514.14,673.76 514.38,674.06 514.63,674.23 514.87,674.25 515.11,674.12 515.35,673.85 515.59,673.48 515.84,673.05 516.08,672.57 516.32,672.08 516.56,671.58 516.80,671.10 517.05,670.63 517.29,670.19 517.53,669.77 517.77,669.40 518.01,669.06 518.26,668.77 518.50,668.52 518.74,668.32 518.98,668.16 519.23,668.06 519.47,668.01 519.71,668.01 519.95,668.06 520.19,668.15 520.44,668.30 520.68,668.50 520.92,668.74 521.16,669.03 521.40,669.36 521.65,669.73 521.89,670.13 522.13,670.57 522.37,671.03 522.61,671.52 522.86,672.02 523.10,672.54 523.34,673.05 523.58,673.55 523.82,674.02 524.07,674.44 524.31,674.78 524.55,674.99 524.79,675.05 525.03,674.94 525.28,674.69 525.52,674.35 525.76,673.95 526.00,673.51 526.25,673.07 526.49,672.63 526.73,672.20 526.97,671.80 527.21,671.42 527.46,671.07 527.70,670.76 527.94,670.49 528.18,670.25 528.42,670.06 528.67,669.92 528.91,669.82 529.15,669.76 529.39,669.75 529.63,669.79 529.88,669.87 530.12,670.00 530.36,670.17 530.60,670.38 530.85,670.63 531.09,670.93 531.33,671.26 531.57,671.62 531.81,672.02 532.06,672.45 532.30,672.89 532.54,673.36 532.78,673.85 533.02,674.34 533.27,674.83 533.51,675.31 533.75,675.75 533.99,676.09 534.23,676.25 534.48,676.16 534.72,675.87 534.96,675.47 535.20,675.02 535.44,674.55 535.69,674.09 535.93,673.63 536.17,673.20 536.41,672.78 536.65,672.39 536.90,672.04 537.14,671.71 537.38,671.42 537.62,671.17 537.87,670.95 538.11,670.78 538.35,670.64 538.59,670.55 538.83,670.50 539.08,670.50 539.32,670.53 539.56,670.61 539.80,670.73 540.04,670.89 540.29,671.09 540.53,671.33 540.77,671.60 541.01,671.91 541.25,672.25 541.50,672.62 541.74,673.02 541.98,673.44 542.22,673.89 542.47,674.35 542.71,674.84 542.95,675.33 543.19,675.84 543.43,676.35 543.68,676.86 543.92,677.31 544.16,677.04 544.40,676.55 544.64,676.04 544.89,675.55 545.13,675.07 545.37,674.61 545.61,674.17 545.85,673.75 546.10,673.35 546.34,672.98 546.58,672.64 546.82,672.33 547.06,672.06 547.31,671.82 547.55,671.61 547.79,671.44 548.03,671.31 548.27,671.22 548.52,671.16 548.76,671.15 549.00,671.17 549.24,671.23 549.49,671.32 549.73,671.46 549.97,671.62 550.21,671.82 550.45,672.06 550.70,672.32 550.94,672.61 551.18,672.92 551.42,673.26 551.66,673.62 551.91,673.99 552.15,674.37 552.39,674.75 552.63,675.14 552.87,675.50 553.12,675.83 553.36,676.08 553.60,676.21 553.84,676.19 554.09,676.02 554.33,675.75 554.57,675.43 554.81,675.08 555.05,674.73 555.30,674.38 555.54,674.05 555.78,673.72 556.02,673.42 556.26,673.15 556.51,672.89 556.75,672.67 556.99,672.48 557.23,672.32 557.47,672.19 557.72,672.09 557.96,672.03 558.20,672.00 558.44,672.00 558.68,672.04 558.93,672.12 559.17,672.23 559.41,672.36 559.65,672.54 559.89,672.74 560.14,672.96 560.38,673.22 560.62,673.50 560.86,673.80 561.11,674.12 561.35,674.45 561.59,674.79 561.83,675.14 562.07,675.48 562.32,675.80 562.56,676.07 562.80,676.26 563.04,676.31 563.28,676.22 563.53,676.00 563.77,675.71 564.01,675.38 564.25,675.03 564.49,674.69 564.74,674.34 564.98,674.01 565.22,673.69 565.46,673.39 565.71,673.10 565.95,672.85 566.19,672.61 566.43,672.41 566.67,672.23 566.92,672.08 567.16,671.97 567.40,671.88 567.64,671.83 567.88,671.81 568.13,671.82 568.37,671.86 568.61,671.93 568.85,672.04 569.09,672.17 569.34,672.33 569.58,672.52 569.82,672.74 570.06,672.97 570.30,673.23 570.55,673.51 570.79,673.81 571.03,674.12 571.27,674.43 571.51,674.75 571.76,675.07 572.00,675.37 572.24,675.64 572.48,675.86 572.73,676.01 572.97,676.06 573.21,675.99 573.45,675.83 573.69,675.61 573.94,675.35 574.18,675.07 574.42,674.78 574.66,674.49 574.90,674.21 575.15,673.95 575.39,673.70 575.63,673.47 575.87,673.27 576.11,673.08 576.36,672.93 576.60,672.80 576.84,672.70 577.08,672.62 577.33,672.58 577.57,672.57 577.81,672.58 578.05,672.63 578.29,672.70 578.54,672.81 578.78,672.94 579.02,673.10 579.26,673.28 579.50,673.49 579.75,673.72 579.99,673.97 580.23,674.24 580.47,674.52 580.71,674.82 580.96,675.13 581.20,675.44 581.44,675.76 581.68,676.06 581.92,676.33 582.17,676.54 582.41,676.64 582.65,676.58 582.89,676.40 583.13,676.15 583.38,675.86 583.62,675.56 583.86,675.26 584.10,674.97 584.35,674.69 584.59,674.42 584.83,674.17 585.07,673.94 585.31,673.73 585.56,673.54 585.80,673.38 586.04,673.25 586.28,673.14 586.52,673.06 586.77,673.01 587.01,672.98 587.25,672.99 587.49,673.02 587.73,673.08 587.98,673.17 588.22,673.29 588.46,673.43 588.70,673.60 588.95,673.80 589.19,674.02 589.43,674.25 589.67,674.51 589.91,674.79 590.16,675.09 590.40,675.40 590.64,675.72 590.88,676.05 591.12,676.38 591.37,676.71 591.61,677.01 591.85,677.16 592.09,677.00 592.33,676.70 592.58,676.36 592.82,676.03 593.06,675.69 593.30,675.37 593.54,675.05 593.79,674.75 594.03,674.46 594.27,674.20 594.51,673.95 594.75,673.72 595.00,673.51 595.24,673.33 595.48,673.18 595.72,673.05 595.97,672.94 596.21,672.87 596.45,672.82 596.69,672.79 596.93,672.80 597.18,672.84 597.42,672.90 597.66,672.99 597.90,673.10 598.14,673.24 598.39,673.41 598.63,673.60 598.87,673.81 599.11,674.05 599.35,674.30 599.60,674.58 599.84,674.86 600.08,675.17 600.32,675.48 600.57,675.81 600.81,676.14 601.05,676.47 601.29,676.80 601.53,677.09 601.78,677.19 602.02,676.98 602.26,676.67 602.50,676.34 602.74,676.02 602.99,675.70 603.23,675.39 603.47,675.10 603.71,674.82 603.95,674.56 604.20,674.31 604.44,674.09 604.68,673.88 604.92,673.70 605.16,673.54 605.41,673.41 605.65,673.30 605.89,673.22 606.13,673.16 606.38,673.13 606.62,673.13 606.86,673.16 607.10,673.21 607.34,673.28 607.59,673.38 607.83,673.51 608.07,673.66 608.31,673.83 608.55,674.02 608.80,674.24 609.04,674.47 609.28,674.72 609.52,674.99 609.76,675.26 610.01,675.55 610.25,675.86 610.49,676.16 610.73,676.48 610.97,676.79 611.22,677.10 611.46,677.34 611.70,677.19 611.94,676.89 612.18,676.59 612.43,676.29 612.67,676.00 612.91,675.72 613.15,675.45 613.40,675.20 613.64,674.96 613.88,674.75 614.12,674.55 614.36,674.37 614.61,674.22 614.85,674.09 615.09,673.98 615.33,673.89 615.57,673.83 615.82,673.80 616.06,673.79 616.30,673.81 616.54,673.85 616.78,673.92 617.03,674.01 617.27,674.12 617.51,674.26 617.75,674.42 618.00,674.60 618.24,674.80 618.48,675.02 618.72,675.26 618.96,675.51 619.21,675.77 619.45,676.05 619.69,676.33 619.93,676.62 620.17,676.89 620.42,677.12 620.66,677.16 620.90,676.96 621.14,676.69 621.38,676.39 621.63,676.09 621.87,675.80 622.11,675.51 622.35,675.23 622.59,674.96 622.84,674.71 623.08,674.47 623.32,674.25 623.56,674.05 623.81,673.86 624.05,673.70 624.29,673.56 624.53,673.44 624.77,673.35 625.02,673.28 625.26,673.23 625.50,673.21 625.74,673.21 625.98,673.24 626.23,673.30 626.47,673.38 626.71,673.48 626.95,673.60 627.19,673.75 627.44,673.92 627.68,674.11 627.92,674.32 628.16,674.54 628.40,674.78 628.65,675.03 628.89,675.30 629.13,675.56 629.37,675.83 629.62,676.10 629.86,676.34 630.10,676.54 630.34,676.67 630.58,676.68 630.83,676.57 631.07,676.38 631.31,676.14 631.55,675.88 631.79,675.62 632.04,675.36 632.28,675.10 632.52,674.86 632.76,674.63 633.00,674.41 633.25,674.21 633.49,674.03 633.73,673.87 633.97,673.74 634.21,673.62 634.46,673.53 634.70,673.47 634.94,673.42 635.18,673.41 635.42,673.42 635.67,673.45 635.91,673.52 636.15,673.60 636.39,673.71 636.64,673.85 636.88,674.00 637.12,674.18 637.36,674.39 637.60,674.61 637.85,674.84 638.09,675.10 638.33,675.37 638.57,675.65 638.81,675.94 639.06,676.24 639.30,676.53 639.54,676.79 639.78,676.98 640.02,676.99 640.27,676.80 640.51,676.53 640.75,676.23 640.99,675.92 641.24,675.61 641.48,675.30 641.72,675.00 641.96,674.72 642.20,674.44 642.45,674.19 642.69,673.95 642.93,673.72 643.17,673.52 643.41,673.34 643.66,673.18 643.90,673.04 644.14,672.93 644.38,672.85 644.62,672.78 644.87,672.75 645.11,672.74 645.35,672.76 645.59,672.80 645.83,672.87 646.08,672.97 646.32,673.09 646.56,673.23 646.80,673.40 647.05,673.59 647.29,673.80 647.53,674.03 647.77,674.28 648.01,674.55 648.26,674.83 648.50,675.13 648.74,675.44 648.98,675.76 649.22,676.09 649.47,676.43 649.71,676.76 649.95,677.10 650.19,677.42 650.43,677.19 650.68,676.86 650.92,676.53 651.16,676.20 651.40,675.88 651.64,675.57 651.89,675.28 652.13,675.00 652.37,674.73 652.61,674.49 652.86,674.26 653.10,674.05 653.34,673.86 653.58,673.69 653.82,673.55 654.07,673.43 654.31,673.33 654.55,673.26 654.79,673.21 655.03,673.19 655.28,673.20 655.52,673.22 655.76,673.28 656.00,673.35 656.24,673.45 656.49,673.57 656.73,673.71 656.97,673.87 657.21,674.05 657.45,674.25 657.70,674.46 657.94,674.69 658.18,674.92 658.42,675.16 658.66,675.41 658.91,675.65 659.15,675.88 659.39,676.09 659.63,676.27 659.88,676.39 660.12,676.43 660.36,676.39 660.60,676.27 660.84,676.10 661.09,675.90 661.33,675.68 661.57,675.46 661.81,675.24 662.05,675.03 662.30,674.83 662.54,674.64 662.78,674.46 663.02,674.30 663.26,674.16 663.51,674.04 663.75,673.94 663.99,673.87 664.23,673.81 664.48,673.78 664.72,673.77 664.96,673.78 665.20,673.81 665.44,673.87 665.69,673.95 665.93,674.05 666.17,674.17 666.41,674.31 666.65,674.47 666.90,674.65 667.14,674.85 667.38,675.06 667.62,675.29 667.86,675.52 668.11,675.77 668.35,676.03 668.59,676.29 668.83,676.55 669.07,676.80 669.32,677.02 669.56,677.14 669.80,677.06 670.04,676.85 670.29,676.61 670.53,676.36 670.77,676.10 671.01,675.85 671.25,675.62 671.50,675.39 671.74,675.17 671.98,674.98 672.22,674.79 672.46,674.63 672.71,674.48 672.95,674.35 673.19,674.24 673.43,674.16 673.67,674.09 673.92,674.05 674.16,674.03 674.40,674.03 674.64,674.05 674.88,674.10 675.13,674.16 675.37,674.25 675.61,674.36 675.85,674.49 676.10,674.64 676.34,674.81 676.58,674.99 676.82,675.19 677.06,675.40 677.31,675.63 677.55,675.86 677.79,676.11 678.03,676.35 678.27,676.60 678.52,676.85 678.76,677.05 679.00,677.15" fill="none" stroke="#D95319" stroke-width="1.5" stroke-linejoin="round"/>
<text x="388.65" y="692.80" font-size="11.8" text-anchor="middle" font-weight="bold" fill="#1a1a1a" stroke="#1a1a1a" stroke-width="0.2" >0</text>
<text x="427.40" y="692.80" font-size="11.8" text-anchor="middle" font-weight="bold" fill="#1a1a1a" stroke="#1a1a1a" stroke-width="0.2" >2</text>
<text x="466.15" y="692.80" font-size="11.8" text-anchor="middle" font-weight="bold" fill="#1a1a1a" stroke="#1a1a1a" stroke-width="0.2" >4</text>
<text x="504.90" y="692.80" font-size="11.8" text-anchor="middle" font-weight="bold" fill="#1a1a1a" stroke="#1a1a1a" stroke-width="0.2" >6</text>
<text x="543.65" y="692.80" font-size="11.8" text-anchor="middle" font-weight="bold" fill="#1a1a1a" stroke="#1a1a1a" stroke-width="0.2" >8</text>
<text x="582.40" y="692.80" font-size="11.8" text-anchor="middle" font-weight="bold" fill="#1a1a1a" stroke="#1a1a1a" stroke-width="0.2" >10</text>
<text x="621.15" y="692.80" font-size="11.8" text-anchor="middle" font-weight="bold" fill="#1a1a1a" stroke="#1a1a1a" stroke-width="0.2" >12</text>
<text x="659.90" y="692.80" font-size="11.8" text-anchor="middle" font-weight="bold" fill="#1a1a1a" stroke="#1a1a1a" stroke-width="0.2" >14</text>
<text x="384.20" y="681.80" font-size="11.8" text-anchor="end" font-weight="bold" fill="#1a1a1a" stroke="#1a1a1a" stroke-width="0.2" >0</text>
<text x="384.20" y="641.73" font-size="11.8" text-anchor="end" font-weight="bold" fill="#1a1a1a" stroke="#1a1a1a" stroke-width="0.2" >0.02</text>
<text x="384.20" y="601.66" font-size="11.8" text-anchor="end" font-weight="bold" fill="#1a1a1a" stroke="#1a1a1a" stroke-width="0.2" >0.04</text>
<text x="384.20" y="561.59" font-size="11.8" text-anchor="end" font-weight="bold" fill="#1a1a1a" stroke="#1a1a1a" stroke-width="0.2" >0.06</text>
<text x="384.20" y="521.51" font-size="11.8" text-anchor="end" font-weight="bold" fill="#1a1a1a" stroke="#1a1a1a" stroke-width="0.2" >0.08</text>
<text x="384.20" y="481.44" font-size="11.8" text-anchor="end" font-weight="bold" fill="#1a1a1a" stroke="#1a1a1a" stroke-width="0.2" >0.1</text>
<text x="384.20" y="441.37" font-size="11.8" text-anchor="end" font-weight="bold" fill="#1a1a1a" stroke="#1a1a1a" stroke-width="0.2" >0.12</text>
<text x="384.20" y="401.30" font-size="11.8" text-anchor="end" font-weight="bold" fill="#1a1a1a" stroke="#1a1a1a" stroke-width="0.2" >0.14</text>
<text x="533.50" y="710.00" font-size="13.0" text-anchor="middle" font-weight="bold" fill="#1a1a1a" stroke="#1a1a1a" stroke-width="0.2" >Frequency (Hz)</text>
<text x="533.50" y="391.80" font-size="13.0" text-anchor="middle" font-weight="bold" fill="#000" stroke="#000" stroke-width="0.2" >Frequency domain</text>
<text x="356.40" y="537.20" font-size="13.0" text-anchor="middle" font-weight="bold" fill="#1a1a1a" stroke="#1a1a1a" stroke-width="0.2" transform="rotate(-90 356.4 537.2)">Magnitude (dB)</text>
<rect x="563.2" y="402.2" width="110.39999999999998" height="28.900000000000034" fill="#fff" stroke="#262626" stroke-width="0.5"/>
<line x1="565.4" y1="410.0" x2="585" y2="410.0" stroke="#0072BD" stroke-width="1.5"/>
<text x="586.90" y="414.00" font-size="10.6" text-anchor="start" font-weight="bold" fill="#000" stroke="#000" stroke-width="0.2" >110 ms Robot</text>
<line x1="565.4" y1="424.2" x2="585" y2="424.2" stroke="#D95319" stroke-width="1.5"/>
<text x="586.90" y="428.20" font-size="10.6" text-anchor="start" font-weight="bold" fill="#000" stroke="#000" stroke-width="0.2" >Fast Fish Motion</text>
<text x="357.40" y="725.40" font-size="12.0" text-anchor="middle" font-weight="bold" fill="#000" stroke="#000" stroke-width="0.2" >(b)</text>
</svg></body></html>
